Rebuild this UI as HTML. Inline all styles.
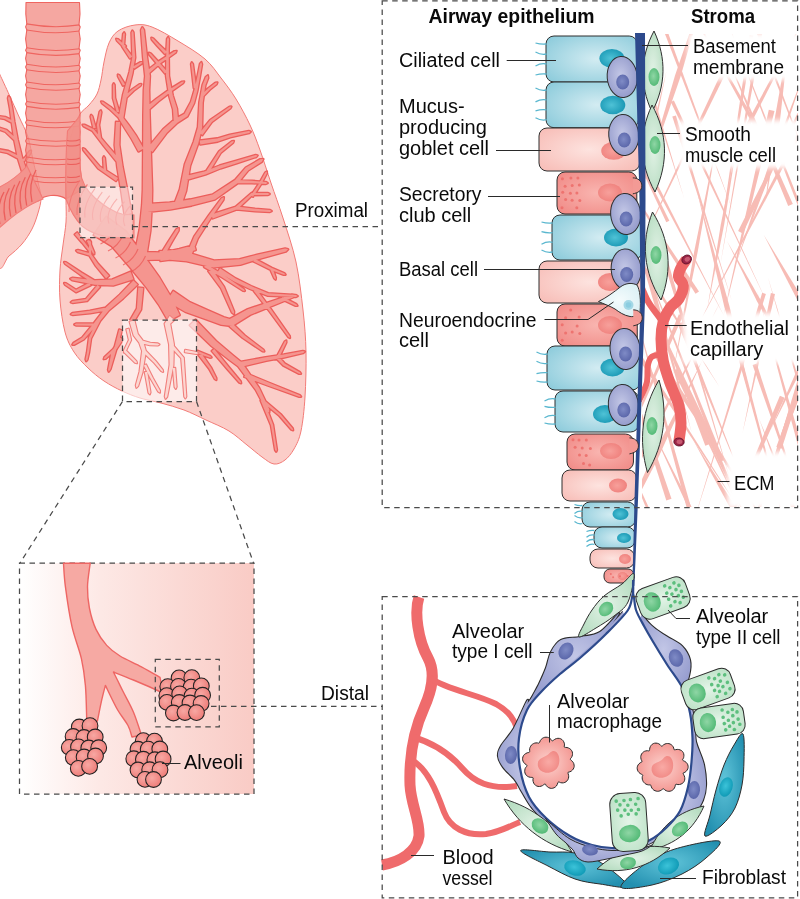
<!DOCTYPE html>
<html><head><meta charset="utf-8"><style>
html,body{margin:0;padding:0;background:#fff;font-family:"Liberation Sans", sans-serif;}
svg{display:block;}
</style></head><body>
<div style="width:800px;height:899px;will-change:transform"><svg width="800" height="899" viewBox="0 0 800 899" style='font-family:"Liberation Sans", sans-serif'>
<defs>
<radialGradient id="gCil" cx="0.55" cy="0.5" r="0.7"><stop offset="0" stop-color="#d3ecf2"/><stop offset="1" stop-color="#8ccbdb"/></radialGradient>
<radialGradient id="gGob" cx="0.5" cy="0.5" r="0.7"><stop offset="0" stop-color="#fde3df"/><stop offset="1" stop-color="#f7bbb5"/></radialGradient>
<radialGradient id="gClub" cx="0.5" cy="0.5" r="0.7"><stop offset="0" stop-color="#f9b5b0"/><stop offset="1" stop-color="#f08884"/></radialGradient>
<radialGradient id="gBas" cx="0.45" cy="0.45" r="0.65"><stop offset="0" stop-color="#c3c7e6"/><stop offset="1" stop-color="#8e95c8"/></radialGradient>
<radialGradient id="gBasN" cx="0.45" cy="0.45" r="0.6"><stop offset="0" stop-color="#7f8bc6"/><stop offset="1" stop-color="#5864a8"/></radialGradient>
<radialGradient id="gTealN" cx="0.45" cy="0.5" r="0.6"><stop offset="0" stop-color="#4fc2d6"/><stop offset="1" stop-color="#1595b2"/></radialGradient>
<radialGradient id="gPinkN" cx="0.45" cy="0.5" r="0.6"><stop offset="0" stop-color="#f7a09b"/><stop offset="1" stop-color="#ef7f7b"/></radialGradient>
<radialGradient id="gSmc" cx="0.5" cy="0.5" r="0.6"><stop offset="0" stop-color="#e2f2e6"/><stop offset="1" stop-color="#b5dcc0"/></radialGradient>
<radialGradient id="gGrN" cx="0.45" cy="0.45" r="0.6"><stop offset="0" stop-color="#8fd6a5"/><stop offset="1" stop-color="#4fb873"/></radialGradient>
<radialGradient id="gAT1" cx="0.5" cy="0.5" r="0.6"><stop offset="0" stop-color="#c2c6e6"/><stop offset="1" stop-color="#959cce"/></radialGradient>
<radialGradient id="gAT2" cx="0.5" cy="0.5" r="0.7"><stop offset="0" stop-color="#e4f4e8"/><stop offset="1" stop-color="#b8e0c3"/></radialGradient>
<radialGradient id="gFib" cx="0.5" cy="0.45" r="0.6"><stop offset="0" stop-color="#5fc3d8"/><stop offset="1" stop-color="#2390b0"/></radialGradient>
<radialGradient id="gFibN" cx="0.45" cy="0.45" r="0.6"><stop offset="0" stop-color="#3cc3d9"/><stop offset="1" stop-color="#0d98b4"/></radialGradient>
<radialGradient id="gMac" cx="0.5" cy="0.5" r="0.6"><stop offset="0" stop-color="#fcd3cf"/><stop offset="1" stop-color="#f28e89"/></radialGradient>
<radialGradient id="gMacN" cx="0.5" cy="0.5" r="0.6"><stop offset="0" stop-color="#f9aaa5"/><stop offset="1" stop-color="#f08682"/></radialGradient>
<radialGradient id="gNeu" cx="0.5" cy="0.5" r="0.7"><stop offset="0" stop-color="#f4fbfc"/><stop offset="1" stop-color="#d6eef3"/></radialGradient>
<radialGradient id="gAlv" cx="0.4" cy="0.4" r="0.65"><stop offset="0" stop-color="#f7a8a3"/><stop offset="1" stop-color="#ee7a76"/></radialGradient>
<linearGradient id="gInset" x1="0" y1="0" x2="1" y2="0"><stop offset="0" stop-color="#ffffff"/><stop offset="0.35" stop-color="#fde8e5"/><stop offset="1" stop-color="#f9cbc5"/></linearGradient>
</defs>
<path d="M-2.0,73.0 C-0.7,57.2 -1.9,71.3 0.0,75.0 C1.9,78.7 6.2,88.2 9.3,95.0 C12.4,101.8 15.6,109.0 18.7,116.0 C21.8,123.0 25.6,129.7 28.0,137.0 C30.4,144.3 31.3,152.5 33.0,160.0 C34.7,167.5 36.7,175.7 38.0,182.0 C39.3,188.3 41.0,192.8 41.0,198.0 C41.0,203.2 39.5,207.8 38.0,213.0 C36.5,218.2 34.7,223.8 32.0,229.0 C29.3,234.2 25.8,239.5 22.0,244.0 C18.2,248.5 13.0,252.8 9.0,256.0 C5.0,259.2 0.8,277.3 -2.0,263.0 C-4.8,248.7 -8.0,201.7 -8.0,170.0 C-8.0,138.3 -3.3,88.8 -2.0,73.0Z" fill="#fbcdc8" stroke="#f27b77" stroke-width="1"/>
<path d="M80.0,114.0 C82.7,109.8 86.2,108.3 89.0,105.0 C91.8,101.7 95.0,98.2 97.0,94.0 C99.0,89.8 99.8,85.3 101.0,80.0 C102.2,74.7 102.7,68.2 104.0,62.0 C105.3,55.8 106.7,48.2 109.0,43.0 C111.3,37.8 113.7,34.0 118.0,31.0 C122.3,28.0 129.3,25.7 135.0,25.0 C140.7,24.3 144.8,24.3 152.0,27.0 C159.2,29.7 169.2,35.7 178.0,41.0 C186.8,46.3 197.8,52.8 205.0,59.0 C212.2,65.2 215.8,71.3 221.0,78.0 C226.2,84.7 231.2,91.2 236.0,99.0 C240.8,106.8 246.0,116.5 250.0,125.0 C254.0,133.5 256.5,140.3 260.0,150.0 C263.5,159.7 267.2,171.7 271.0,183.0 C274.8,194.3 278.8,204.8 283.0,218.0 C287.2,231.2 292.7,246.7 296.0,262.0 C299.3,277.3 301.3,295.0 303.0,310.0 C304.7,325.0 305.7,337.5 306.0,352.0 C306.3,366.5 305.8,383.8 305.0,397.0 C304.2,410.2 302.8,422.3 301.0,431.0 C299.2,439.7 296.7,444.2 294.0,449.0 C291.3,453.8 288.3,457.5 285.0,460.0 C281.7,462.5 277.8,464.5 274.0,464.0 C270.2,463.5 266.5,460.2 262.0,457.0 C257.5,453.8 252.5,449.3 247.0,445.0 C241.5,440.7 235.8,435.2 229.0,431.0 C222.2,426.8 213.5,423.5 206.0,420.0 C198.5,416.5 191.5,412.8 184.0,410.0 C176.5,407.2 168.3,405.0 161.0,403.0 C153.7,401.0 146.5,400.0 140.0,398.0 C133.5,396.0 128.0,393.8 122.0,391.0 C116.0,388.2 109.7,384.8 104.0,381.0 C98.3,377.2 93.0,372.8 88.0,368.0 C83.0,363.2 77.8,358.0 74.0,352.0 C70.2,346.0 67.3,340.7 65.0,332.0 C62.7,323.3 60.8,310.3 60.0,300.0 C59.2,289.7 59.5,279.2 60.0,270.0 C60.5,260.8 62.0,253.0 63.0,245.0 C64.0,237.0 65.5,229.5 66.0,222.0 C66.5,214.5 66.0,207.8 66.0,200.0 C66.0,192.2 65.7,183.3 66.0,175.0 C66.3,166.7 66.8,157.5 68.0,150.0 C69.2,142.5 71.0,136.0 73.0,130.0 C75.0,124.0 77.3,118.2 80.0,114.0Z" fill="#fbcdc8" stroke="#f27b77" stroke-width="1"/>
<g><path d="M145.9,259.1 L150.4,230.7 L151.9,205.3 L152.2,190.0 L150.9,151.9 L149.7,115.0 L149.2,90.1 L149.9,75.9 L147.0,56.8 L144.0,29.9 L142.3,27.3 L141.0,30.1 L143.0,57.2 L145.1,76.1 L143.8,89.9 L143.3,115.0 L143.1,152.1 L142.8,190.0 L142.1,204.7 L139.6,229.3 L134.1,256.9Z M149.1,73.3 L160.8,63.1 L175.6,52.8 L176.5,51.0 L174.4,51.2 L159.2,60.9 L146.9,70.7Z M149.3,109.5 L158.6,101.3 L171.8,91.1 L183.0,83.3 L184.0,81.5 L182.0,81.7 L170.2,88.9 L156.4,98.7 L146.7,106.5Z M152.4,151.9 L166.9,132.7 L177.4,122.8 L187.5,116.3 L194.1,103.2 L197.5,90.3 L200.2,75.2 L202.0,64.2 L201.3,62.2 L200.0,63.8 L197.8,74.8 L194.5,89.7 L190.9,101.8 L184.5,113.7 L174.6,119.2 L163.1,129.3 L147.6,148.1Z M178.2,121.8 L177.0,108.6 L172.8,95.6 L169.0,75.9 L168.7,51.0 L169.0,39.0 L168.1,37.2 L167.0,39.0 L166.3,51.0 L166.0,76.1 L169.2,96.4 L173.0,109.4 L173.8,122.2Z M167.1,51.9 L158.8,44.2 L153.2,38.4 L151.4,37.8 L151.8,39.6 L157.2,45.8 L164.9,54.1Z M167.1,71.5 L157.9,61.2 L150.7,53.4 L148.9,52.8 L149.3,54.6 L156.1,62.8 L164.9,73.5Z M196.2,87.8 L192.9,63.9 L191.8,62.4 L191.1,64.1 L193.8,88.2Z M143.6,148.5 L136.4,136.1 L129.1,125.6 L123.4,117.9 L127.0,95.4 L132.6,72.9 L135.2,57.6 L133.5,32.5 L132.4,30.7 L131.5,32.5 L132.3,57.4 L129.4,72.1 L123.0,94.6 L118.6,118.1 L124.9,128.4 L131.6,138.9 L138.4,151.5Z M122.0,116.9 L110.7,107.1 L103.0,101.8 L101.2,101.5 L102.0,103.2 L109.3,108.9 L120.0,119.1Z M132.2,56.6 L124.1,45.7 L124.9,34.1 L124.1,32.4 L123.1,33.9 L121.9,46.3 L129.8,58.4Z M125.9,46.1 L118.1,39.3 L116.3,38.9 L116.9,40.7 L124.1,47.9Z M134.4,68.6 L141.5,63.8 L142.4,62.1 L140.5,62.2 L133.1,66.4Z M125.1,84.4 L119.5,75.5 L117.9,74.6 L118.0,76.5 L122.9,85.6Z M125.9,98.4 L133.7,90.8 L140.5,85.7 L141.3,84.1 L139.5,84.3 L132.3,89.2 L124.1,96.6Z M119.2,111.7 L115.1,97.8 L114.6,85.0 L113.7,83.4 L112.9,85.0 L112.9,98.2 L116.8,112.3Z M131.5,213.5 L127.6,191.5 L122.7,167.1 L119.4,144.9 L120.0,122.1 L116.0,121.9 L114.6,145.1 L117.3,167.9 L121.4,192.5 L124.5,214.5Z M121.5,161.7 L106.2,144.0 L93.8,129.2 L84.4,124.7 L82.6,124.8 L83.6,126.3 L92.2,130.8 L103.8,146.0 L118.5,164.3Z M95.7,127.7 L92.4,116.3 L91.1,114.9 L90.6,116.7 L93.3,128.3Z M101.2,138.8 L99.1,125.0 L101.4,112.2 L100.8,110.4 L99.6,111.8 L96.9,125.0 L98.8,139.2Z M118.0,178.0 L99.9,166.5 L84.7,148.9 L83.0,148.3 L83.3,150.1 L98.1,168.5 L116.0,181.0Z M106.2,170.9 L104.9,157.9 L103.9,156.4 L103.1,158.1 L103.8,171.1Z M147.3,212.0 L170.4,209.5 L191.6,205.6 L214.9,199.4 L237.9,183.1 L248.2,170.4 L261.8,161.8 L263.3,159.1 L260.2,159.2 L245.8,167.6 L235.1,179.9 L212.6,194.6 L190.4,199.4 L169.6,202.5 L146.7,204.0Z M236.5,183.0 L251.9,183.2 L265.9,183.9 L267.6,183.1 L266.1,182.1 L252.1,180.8 L236.5,180.0Z M181.3,205.2 L186.2,190.8 L190.2,165.7 L198.3,143.3 L202.1,127.8 L202.7,102.7 L205.4,85.3 L208.2,78.0 L207.8,75.4 L205.8,77.0 L202.6,84.7 L199.3,102.3 L197.9,127.2 L193.7,141.7 L184.8,164.3 L179.8,189.2 L174.7,202.8Z M200.3,144.5 L217.8,141.6 L230.3,137.3 L249.2,132.9 L250.6,131.7 L248.8,131.1 L229.7,134.7 L217.2,138.4 L199.7,140.5Z M202.4,135.1 L211.9,122.0 L230.5,108.2 L231.3,106.6 L229.5,106.8 L210.1,120.0 L199.6,132.9Z M202.9,96.9 L209.7,89.8 L216.6,84.2 L217.3,82.5 L215.4,82.8 L208.3,88.2 L201.1,95.1Z M186.5,179.9 L205.5,174.6 L220.5,168.4 L236.9,163.2 L256.3,156.9 L257.5,155.5 L255.7,155.1 L236.1,160.8 L219.5,165.6 L204.5,171.4 L185.5,176.1Z M209.3,171.8 L220.9,152.7 L233.1,142.7 L233.8,141.0 L231.9,141.3 L219.1,151.3 L206.7,170.2Z M212.7,218.4 L237.3,209.3 L252.5,195.1 L268.0,194.9 L269.6,194.0 L268.0,193.1 L251.5,192.9 L235.7,206.7 L211.3,214.6Z M253.0,196.7 L260.9,184.6 L266.8,173.4 L266.8,171.6 L265.2,172.6 L259.1,183.4 L251.0,195.3Z M236.3,209.5 L254.9,211.2 L269.9,211.9 L271.6,211.1 L270.1,210.1 L255.1,208.8 L236.7,206.5Z M160.5,261.0 L169.8,259.7 L186.6,261.2 L213.4,267.5 L240.4,264.7 L258.1,259.2 L285.9,251.5 L288.1,249.3 L285.1,248.5 L256.9,254.8 L239.6,259.3 L214.1,260.5 L188.4,252.8 L170.2,250.3 L159.5,251.0Z M253.3,261.3 L271.0,270.0 L283.7,274.8 L285.5,274.6 L284.3,273.2 L272.0,268.0 L254.7,258.7Z M270.3,269.5 L274.2,278.3 L275.6,279.5 L275.8,277.7 L272.7,268.5Z M204.1,267.0 L221.8,277.2 L243.0,290.7 L244.8,290.9 L244.0,289.3 L223.2,274.8 L205.9,264.0Z M189.8,259.4 L197.8,238.5 L211.3,217.4 L223.5,199.7 L223.8,197.2 L221.5,198.3 L208.7,215.6 L194.2,236.5 L185.2,257.6Z M146.0,260.0 L163.9,259.5 L180.8,254.9 L195.7,249.9 L194.3,245.1 L179.2,249.1 L163.1,252.5 L146.0,252.0Z M164.7,255.0 L171.4,242.8 L178.6,230.7 L178.7,228.1 L176.4,229.3 L168.6,241.2 L161.3,253.0Z M166.8,301.1 L185.1,311.7 L203.3,318.3 L221.2,324.8 L232.2,326.1 L250.3,314.8 L268.8,307.2 L293.0,297.4 L295.0,295.1 L292.0,294.6 L267.2,302.8 L247.7,309.2 L229.8,318.9 L223.8,317.2 L206.7,309.7 L189.9,302.3 L173.2,290.9Z M281.4,299.1 L295.6,305.8 L297.4,305.7 L296.4,304.2 L282.6,296.9Z M229.6,326.5 L242.5,337.7 L262.5,351.2 L264.3,351.4 L263.5,349.8 L244.5,335.3 L232.4,323.5Z M208.4,271.2 L221.0,288.3 L231.9,312.5 L233.9,314.1 L234.1,311.5 L224.0,286.7 L211.6,268.8Z M217.9,271.7 L234.2,281.5 L249.9,288.9 L267.8,295.8 L296.0,296.9 L297.6,296.1 L296.0,295.1 L268.2,293.2 L251.1,286.1 L235.8,278.5 L220.1,268.3Z M253.8,290.9 L269.0,310.7 L288.3,337.0 L289.9,337.8 L289.7,336.0 L271.0,309.3 L256.2,289.1Z M189.9,325.3 L211.5,346.0 L229.2,359.8 L238.0,366.2 L255.8,390.0 L266.7,410.7 L269.2,412.4 L269.3,409.3 L259.2,388.0 L242.0,362.8 L232.8,355.2 L216.0,341.0 L195.6,319.7Z M240.5,366.9 L266.4,360.8 L284.3,357.4 L303.2,353.0 L304.8,351.6 L302.8,351.0 L283.7,354.6 L265.6,357.2 L239.5,362.1Z M279.1,357.6 L286.3,342.4 L286.2,340.6 L284.7,341.6 L276.9,356.4Z M276.9,359.0 L283.3,365.6 L299.1,373.8 L300.9,373.8 L299.9,372.2 L284.7,363.4 L279.1,357.0Z M244.3,376.9 L267.4,385.4 L299.2,396.8 L301.0,396.6 L299.8,395.2 L268.6,382.6 L245.7,373.1Z M198.5,354.9 L209.0,368.6 L214.7,378.9 L216.3,379.9 L216.3,378.1 L211.0,367.4 L201.0,353.1Z M211.8,351.0 L227.1,368.8 L239.3,382.6 L241.1,383.2 L240.7,381.4 L228.9,367.2 L214.2,349.0Z M260.6,400.6 L270.9,425.3 L275.1,450.1 L276.3,451.6 L276.9,449.9 L273.1,424.7 L263.4,399.4Z M261.2,401.0 L279.3,415.8 L291.3,429.6 L293.1,430.2 L292.7,428.4 L280.7,414.2 L262.8,399.0Z M196.6,353.2 L209.7,357.6 L211.5,357.4 L210.3,356.0 L197.4,350.8Z M130.6,271.7 L112.2,279.5 L95.2,280.2 L72.7,277.8 L70.3,278.7 L72.3,280.2 L94.8,284.8 L113.3,285.5 L133.4,279.3Z M109.0,275.7 L98.2,264.0 L90.7,253.5 L78.0,250.1 L76.2,250.6 L77.5,251.9 L89.3,255.5 L95.8,266.0 L106.0,278.3Z M91.2,254.5 L90.9,242.0 L90.0,240.4 L89.1,242.0 L88.8,254.5Z M95.8,281.2 L81.7,272.7 L66.0,262.3 L64.2,262.1 L65.0,263.7 L80.3,274.8 L94.2,283.8Z M89.3,282.7 L76.0,289.8 L66.0,283.3 L64.2,283.1 L65.0,284.7 L76.0,292.2 L90.7,285.3Z M97.6,285.0 L85.9,299.0 L72.4,301.1 L70.9,302.2 L72.6,302.9 L87.1,301.0 L99.9,287.0Z M74.8,234.5 L82.1,242.8 L89.3,251.6 L91.0,252.3 L90.7,250.4 L83.9,241.2 L77.2,232.5Z M86.9,241.0 L92.7,253.1 L94.2,254.2 L94.3,252.4 L89.1,240.0Z M133.4,280.4 L119.8,294.6 L106.0,307.3 L93.7,323.4 L82.2,337.6 L73.5,342.9 L72.4,344.7 L74.5,344.6 L83.8,339.4 L96.3,325.6 L109.0,310.2 L123.2,298.4 L137.6,284.6Z M107.2,307.3 L89.8,310.8 L72.4,313.1 L70.9,314.2 L72.6,314.9 L90.2,313.2 L107.8,310.2Z M95.0,323.2 L76.0,323.6 L74.4,324.5 L76.0,325.4 L95.0,325.8Z M97.7,319.3 L88.9,337.6 L87.0,352.3 L85.6,359.3 L86.2,361.1 L87.4,359.7 L89.0,352.7 L91.1,338.4 L100.3,320.7Z M138.3,287.5 L136.9,308.4 L130.3,320.0 L133.7,322.0 L141.1,309.6 L143.2,288.0Z M120.0,337.6 L111.5,352.0 L108.1,369.8 L108.7,371.6 L109.9,370.2 L114.0,353.0 L123.0,339.4Z M119.2,329.6 L113.9,349.7 L108.7,368.8 L109.2,370.6 L110.5,369.2 L116.1,350.3 L122.0,330.4Z M115.2,347.1 L104.4,357.3 L103.8,359.1 L105.6,358.7 L116.8,348.9Z M93.8,235.1 L111.7,246.1 L129.9,267.1 L146.4,287.2 L158.8,304.7 L168.3,321.0 L179.7,315.0 L171.2,297.3 L159.6,277.8 L144.1,255.9 L125.8,231.4 L106.2,216.9Z" fill="#ec5e5b" stroke="#ec5e5b" stroke-width="2.6" stroke-linejoin="round"/>
<path d="M145.9,259.1 L150.4,230.7 L151.9,205.3 L152.2,190.0 L150.9,151.9 L149.7,115.0 L149.2,90.1 L149.9,75.9 L147.0,56.8 L144.0,29.9 L142.3,27.3 L141.0,30.1 L143.0,57.2 L145.1,76.1 L143.8,89.9 L143.3,115.0 L143.1,152.1 L142.8,190.0 L142.1,204.7 L139.6,229.3 L134.1,256.9Z M149.1,73.3 L160.8,63.1 L175.6,52.8 L176.5,51.0 L174.4,51.2 L159.2,60.9 L146.9,70.7Z M149.3,109.5 L158.6,101.3 L171.8,91.1 L183.0,83.3 L184.0,81.5 L182.0,81.7 L170.2,88.9 L156.4,98.7 L146.7,106.5Z M152.4,151.9 L166.9,132.7 L177.4,122.8 L187.5,116.3 L194.1,103.2 L197.5,90.3 L200.2,75.2 L202.0,64.2 L201.3,62.2 L200.0,63.8 L197.8,74.8 L194.5,89.7 L190.9,101.8 L184.5,113.7 L174.6,119.2 L163.1,129.3 L147.6,148.1Z M178.2,121.8 L177.0,108.6 L172.8,95.6 L169.0,75.9 L168.7,51.0 L169.0,39.0 L168.1,37.2 L167.0,39.0 L166.3,51.0 L166.0,76.1 L169.2,96.4 L173.0,109.4 L173.8,122.2Z M167.1,51.9 L158.8,44.2 L153.2,38.4 L151.4,37.8 L151.8,39.6 L157.2,45.8 L164.9,54.1Z M167.1,71.5 L157.9,61.2 L150.7,53.4 L148.9,52.8 L149.3,54.6 L156.1,62.8 L164.9,73.5Z M196.2,87.8 L192.9,63.9 L191.8,62.4 L191.1,64.1 L193.8,88.2Z M143.6,148.5 L136.4,136.1 L129.1,125.6 L123.4,117.9 L127.0,95.4 L132.6,72.9 L135.2,57.6 L133.5,32.5 L132.4,30.7 L131.5,32.5 L132.3,57.4 L129.4,72.1 L123.0,94.6 L118.6,118.1 L124.9,128.4 L131.6,138.9 L138.4,151.5Z M122.0,116.9 L110.7,107.1 L103.0,101.8 L101.2,101.5 L102.0,103.2 L109.3,108.9 L120.0,119.1Z M132.2,56.6 L124.1,45.7 L124.9,34.1 L124.1,32.4 L123.1,33.9 L121.9,46.3 L129.8,58.4Z M125.9,46.1 L118.1,39.3 L116.3,38.9 L116.9,40.7 L124.1,47.9Z M134.4,68.6 L141.5,63.8 L142.4,62.1 L140.5,62.2 L133.1,66.4Z M125.1,84.4 L119.5,75.5 L117.9,74.6 L118.0,76.5 L122.9,85.6Z M125.9,98.4 L133.7,90.8 L140.5,85.7 L141.3,84.1 L139.5,84.3 L132.3,89.2 L124.1,96.6Z M119.2,111.7 L115.1,97.8 L114.6,85.0 L113.7,83.4 L112.9,85.0 L112.9,98.2 L116.8,112.3Z M131.5,213.5 L127.6,191.5 L122.7,167.1 L119.4,144.9 L120.0,122.1 L116.0,121.9 L114.6,145.1 L117.3,167.9 L121.4,192.5 L124.5,214.5Z M121.5,161.7 L106.2,144.0 L93.8,129.2 L84.4,124.7 L82.6,124.8 L83.6,126.3 L92.2,130.8 L103.8,146.0 L118.5,164.3Z M95.7,127.7 L92.4,116.3 L91.1,114.9 L90.6,116.7 L93.3,128.3Z M101.2,138.8 L99.1,125.0 L101.4,112.2 L100.8,110.4 L99.6,111.8 L96.9,125.0 L98.8,139.2Z M118.0,178.0 L99.9,166.5 L84.7,148.9 L83.0,148.3 L83.3,150.1 L98.1,168.5 L116.0,181.0Z M106.2,170.9 L104.9,157.9 L103.9,156.4 L103.1,158.1 L103.8,171.1Z M147.3,212.0 L170.4,209.5 L191.6,205.6 L214.9,199.4 L237.9,183.1 L248.2,170.4 L261.8,161.8 L263.3,159.1 L260.2,159.2 L245.8,167.6 L235.1,179.9 L212.6,194.6 L190.4,199.4 L169.6,202.5 L146.7,204.0Z M236.5,183.0 L251.9,183.2 L265.9,183.9 L267.6,183.1 L266.1,182.1 L252.1,180.8 L236.5,180.0Z M181.3,205.2 L186.2,190.8 L190.2,165.7 L198.3,143.3 L202.1,127.8 L202.7,102.7 L205.4,85.3 L208.2,78.0 L207.8,75.4 L205.8,77.0 L202.6,84.7 L199.3,102.3 L197.9,127.2 L193.7,141.7 L184.8,164.3 L179.8,189.2 L174.7,202.8Z M200.3,144.5 L217.8,141.6 L230.3,137.3 L249.2,132.9 L250.6,131.7 L248.8,131.1 L229.7,134.7 L217.2,138.4 L199.7,140.5Z M202.4,135.1 L211.9,122.0 L230.5,108.2 L231.3,106.6 L229.5,106.8 L210.1,120.0 L199.6,132.9Z M202.9,96.9 L209.7,89.8 L216.6,84.2 L217.3,82.5 L215.4,82.8 L208.3,88.2 L201.1,95.1Z M186.5,179.9 L205.5,174.6 L220.5,168.4 L236.9,163.2 L256.3,156.9 L257.5,155.5 L255.7,155.1 L236.1,160.8 L219.5,165.6 L204.5,171.4 L185.5,176.1Z M209.3,171.8 L220.9,152.7 L233.1,142.7 L233.8,141.0 L231.9,141.3 L219.1,151.3 L206.7,170.2Z M212.7,218.4 L237.3,209.3 L252.5,195.1 L268.0,194.9 L269.6,194.0 L268.0,193.1 L251.5,192.9 L235.7,206.7 L211.3,214.6Z M253.0,196.7 L260.9,184.6 L266.8,173.4 L266.8,171.6 L265.2,172.6 L259.1,183.4 L251.0,195.3Z M236.3,209.5 L254.9,211.2 L269.9,211.9 L271.6,211.1 L270.1,210.1 L255.1,208.8 L236.7,206.5Z M160.5,261.0 L169.8,259.7 L186.6,261.2 L213.4,267.5 L240.4,264.7 L258.1,259.2 L285.9,251.5 L288.1,249.3 L285.1,248.5 L256.9,254.8 L239.6,259.3 L214.1,260.5 L188.4,252.8 L170.2,250.3 L159.5,251.0Z M253.3,261.3 L271.0,270.0 L283.7,274.8 L285.5,274.6 L284.3,273.2 L272.0,268.0 L254.7,258.7Z M270.3,269.5 L274.2,278.3 L275.6,279.5 L275.8,277.7 L272.7,268.5Z M204.1,267.0 L221.8,277.2 L243.0,290.7 L244.8,290.9 L244.0,289.3 L223.2,274.8 L205.9,264.0Z M189.8,259.4 L197.8,238.5 L211.3,217.4 L223.5,199.7 L223.8,197.2 L221.5,198.3 L208.7,215.6 L194.2,236.5 L185.2,257.6Z M146.0,260.0 L163.9,259.5 L180.8,254.9 L195.7,249.9 L194.3,245.1 L179.2,249.1 L163.1,252.5 L146.0,252.0Z M164.7,255.0 L171.4,242.8 L178.6,230.7 L178.7,228.1 L176.4,229.3 L168.6,241.2 L161.3,253.0Z M166.8,301.1 L185.1,311.7 L203.3,318.3 L221.2,324.8 L232.2,326.1 L250.3,314.8 L268.8,307.2 L293.0,297.4 L295.0,295.1 L292.0,294.6 L267.2,302.8 L247.7,309.2 L229.8,318.9 L223.8,317.2 L206.7,309.7 L189.9,302.3 L173.2,290.9Z M281.4,299.1 L295.6,305.8 L297.4,305.7 L296.4,304.2 L282.6,296.9Z M229.6,326.5 L242.5,337.7 L262.5,351.2 L264.3,351.4 L263.5,349.8 L244.5,335.3 L232.4,323.5Z M208.4,271.2 L221.0,288.3 L231.9,312.5 L233.9,314.1 L234.1,311.5 L224.0,286.7 L211.6,268.8Z M217.9,271.7 L234.2,281.5 L249.9,288.9 L267.8,295.8 L296.0,296.9 L297.6,296.1 L296.0,295.1 L268.2,293.2 L251.1,286.1 L235.8,278.5 L220.1,268.3Z M253.8,290.9 L269.0,310.7 L288.3,337.0 L289.9,337.8 L289.7,336.0 L271.0,309.3 L256.2,289.1Z M189.9,325.3 L211.5,346.0 L229.2,359.8 L238.0,366.2 L255.8,390.0 L266.7,410.7 L269.2,412.4 L269.3,409.3 L259.2,388.0 L242.0,362.8 L232.8,355.2 L216.0,341.0 L195.6,319.7Z M240.5,366.9 L266.4,360.8 L284.3,357.4 L303.2,353.0 L304.8,351.6 L302.8,351.0 L283.7,354.6 L265.6,357.2 L239.5,362.1Z M279.1,357.6 L286.3,342.4 L286.2,340.6 L284.7,341.6 L276.9,356.4Z M276.9,359.0 L283.3,365.6 L299.1,373.8 L300.9,373.8 L299.9,372.2 L284.7,363.4 L279.1,357.0Z M244.3,376.9 L267.4,385.4 L299.2,396.8 L301.0,396.6 L299.8,395.2 L268.6,382.6 L245.7,373.1Z M198.5,354.9 L209.0,368.6 L214.7,378.9 L216.3,379.9 L216.3,378.1 L211.0,367.4 L201.0,353.1Z M211.8,351.0 L227.1,368.8 L239.3,382.6 L241.1,383.2 L240.7,381.4 L228.9,367.2 L214.2,349.0Z M260.6,400.6 L270.9,425.3 L275.1,450.1 L276.3,451.6 L276.9,449.9 L273.1,424.7 L263.4,399.4Z M261.2,401.0 L279.3,415.8 L291.3,429.6 L293.1,430.2 L292.7,428.4 L280.7,414.2 L262.8,399.0Z M196.6,353.2 L209.7,357.6 L211.5,357.4 L210.3,356.0 L197.4,350.8Z M130.6,271.7 L112.2,279.5 L95.2,280.2 L72.7,277.8 L70.3,278.7 L72.3,280.2 L94.8,284.8 L113.3,285.5 L133.4,279.3Z M109.0,275.7 L98.2,264.0 L90.7,253.5 L78.0,250.1 L76.2,250.6 L77.5,251.9 L89.3,255.5 L95.8,266.0 L106.0,278.3Z M91.2,254.5 L90.9,242.0 L90.0,240.4 L89.1,242.0 L88.8,254.5Z M95.8,281.2 L81.7,272.7 L66.0,262.3 L64.2,262.1 L65.0,263.7 L80.3,274.8 L94.2,283.8Z M89.3,282.7 L76.0,289.8 L66.0,283.3 L64.2,283.1 L65.0,284.7 L76.0,292.2 L90.7,285.3Z M97.6,285.0 L85.9,299.0 L72.4,301.1 L70.9,302.2 L72.6,302.9 L87.1,301.0 L99.9,287.0Z M74.8,234.5 L82.1,242.8 L89.3,251.6 L91.0,252.3 L90.7,250.4 L83.9,241.2 L77.2,232.5Z M86.9,241.0 L92.7,253.1 L94.2,254.2 L94.3,252.4 L89.1,240.0Z M133.4,280.4 L119.8,294.6 L106.0,307.3 L93.7,323.4 L82.2,337.6 L73.5,342.9 L72.4,344.7 L74.5,344.6 L83.8,339.4 L96.3,325.6 L109.0,310.2 L123.2,298.4 L137.6,284.6Z M107.2,307.3 L89.8,310.8 L72.4,313.1 L70.9,314.2 L72.6,314.9 L90.2,313.2 L107.8,310.2Z M95.0,323.2 L76.0,323.6 L74.4,324.5 L76.0,325.4 L95.0,325.8Z M97.7,319.3 L88.9,337.6 L87.0,352.3 L85.6,359.3 L86.2,361.1 L87.4,359.7 L89.0,352.7 L91.1,338.4 L100.3,320.7Z M138.3,287.5 L136.9,308.4 L130.3,320.0 L133.7,322.0 L141.1,309.6 L143.2,288.0Z M120.0,337.6 L111.5,352.0 L108.1,369.8 L108.7,371.6 L109.9,370.2 L114.0,353.0 L123.0,339.4Z M119.2,329.6 L113.9,349.7 L108.7,368.8 L109.2,370.6 L110.5,369.2 L116.1,350.3 L122.0,330.4Z M115.2,347.1 L104.4,357.3 L103.8,359.1 L105.6,358.7 L116.8,348.9Z M93.8,235.1 L111.7,246.1 L129.9,267.1 L146.4,287.2 L158.8,304.7 L168.3,321.0 L179.7,315.0 L171.2,297.3 L159.6,277.8 L144.1,255.9 L125.8,231.4 L106.2,216.9Z" fill="#f5958f"/></g>
<path d="M100.5,244.0 Q111.0,239.0 115.5,228.0" fill="none" stroke="#ec5e5b" stroke-width="1.1" opacity="0.8"/>
<path d="M108.0,251.0 Q118.5,246.0 123.0,235.0" fill="none" stroke="#ec5e5b" stroke-width="1.1" opacity="0.8"/>
<path d="M115.5,258.0 Q126.0,253.0 130.5,242.0" fill="none" stroke="#ec5e5b" stroke-width="1.1" opacity="0.8"/>
<path d="M123.0,265.0 Q133.5,260.0 138.0,249.0" fill="none" stroke="#ec5e5b" stroke-width="1.1" opacity="0.8"/>
<path d="M130.5,272.0 Q141.0,267.0 145.5,256.0" fill="none" stroke="#ec5e5b" stroke-width="1.1" opacity="0.8"/>
<g><path d="M28.4,175.2 L22.1,157.4 L17.8,139.7 L14.4,121.8 L12.2,107.8 L10.0,97.8 L8.6,96.2 L8.0,98.2 L9.8,108.2 L11.6,122.2 L14.2,140.3 L17.9,158.6 L23.6,176.8Z M17.0,138.9 L6.6,130.1 L-1.7,127.2 L-3.5,127.4 L-2.3,128.8 L5.4,131.9 L15.0,141.1Z M20.7,156.7 L8.4,150.9 L-1.8,149.1 L-3.6,149.7 L-2.2,150.9 L7.6,153.1 L19.3,159.3Z M13.6,120.9 L5.3,117.0 L-1.9,116.1 L-3.6,116.8 L-2.1,117.9 L4.7,119.0 L12.4,123.1Z M20.8,164.0 L26.8,158.7 L30.7,152.5 L30.9,150.7 L29.3,151.5 L25.2,157.3 L19.2,162.0Z" fill="#ec5e5b" stroke="#ec5e5b" stroke-width="2.6" stroke-linejoin="round"/>
<path d="M28.4,175.2 L22.1,157.4 L17.8,139.7 L14.4,121.8 L12.2,107.8 L10.0,97.8 L8.6,96.2 L8.0,98.2 L9.8,108.2 L11.6,122.2 L14.2,140.3 L17.9,158.6 L23.6,176.8Z M17.0,138.9 L6.6,130.1 L-1.7,127.2 L-3.5,127.4 L-2.3,128.8 L5.4,131.9 L15.0,141.1Z M20.7,156.7 L8.4,150.9 L-1.8,149.1 L-3.6,149.7 L-2.2,150.9 L7.6,153.1 L19.3,159.3Z M13.6,120.9 L5.3,117.0 L-1.9,116.1 L-3.6,116.8 L-2.1,117.9 L4.7,119.0 L12.4,123.1Z M20.8,164.0 L26.8,158.7 L30.7,152.5 L30.9,150.7 L29.3,151.5 L25.2,157.3 L19.2,162.0Z" fill="#f5958f"/></g>
<path d="M26,2.5 L79.5,2.5 L80,14 L79.0,24.9 L80.2,26.9 L79.0,31.0 L80.2,38.9 L79.0,48.7 L80.2,50.2 L79.0,53.6 L80.2,58.4 L79.0,65.2 L80.2,67.0 L79.0,70.7 L80.2,75.8 L79.0,83.0 L80.2,84.8 L79.0,88.5 L80.2,94.5 L79.0,102.5 L80.2,104.0 L79.0,107.4 L80.2,113.2 L79.0,121.0 L80.2,122.5 L79.0,126.0 L80.2,131.8 L79.0,139.5 L80.2,141.0 L79.0,144.5 L80.2,150.2 L79.0,158.0 L80.2,159.5 L79.0,163.0 L80.5,170 C81,178 82,184 84,188 L66,199 C62,196 56,195 50.75,195.5 C46,196 41,198 38,201 L26,172 L26.8,162.0 L25.6,159.5 L26.8,157.0 L25.6,150.2 L26.8,143.5 L25.6,141.0 L26.8,138.5 L25.6,131.8 L26.8,125.0 L25.6,122.5 L26.8,120.0 L25.6,113.2 L26.8,106.4 L25.6,104.0 L26.8,101.5 L25.6,94.5 L26.8,87.5 L25.6,84.8 L26.8,82.0 L25.6,75.8 L26.8,69.7 L25.6,67.0 L26.8,64.2 L25.6,58.4 L26.8,52.6 L25.6,50.2 L26.8,47.7 L25.6,38.9 L26.8,30.0 L25.6,26.9 L26.8,23.9 L25.8,14 Z" fill="#f28e86" fill-opacity="0.78" stroke="#ef6560" stroke-width="1.1" stroke-linejoin="round"/>
<path d="M26.5,23.9 Q53,28.9 79.5,24.9" fill="none" stroke="#ef6560" stroke-width="1.1"/>
<path d="M26.5,30.0 Q53,35.0 79.5,31.0" fill="none" stroke="#ef6560" stroke-width="1.1"/>
<path d="M26.5,47.7 Q53,52.7 79.5,48.7" fill="none" stroke="#ef6560" stroke-width="1.1"/>
<path d="M26.5,52.6 Q53,57.6 79.5,53.6" fill="none" stroke="#ef6560" stroke-width="1.1"/>
<path d="M26.5,64.2 Q53,69.2 79.5,65.2" fill="none" stroke="#ef6560" stroke-width="1.1"/>
<path d="M26.5,69.7 Q53,74.7 79.5,70.7" fill="none" stroke="#ef6560" stroke-width="1.1"/>
<path d="M26.5,82.0 Q53,87.0 79.5,83.0" fill="none" stroke="#ef6560" stroke-width="1.1"/>
<path d="M26.5,87.5 Q53,92.5 79.5,88.5" fill="none" stroke="#ef6560" stroke-width="1.1"/>
<path d="M26.5,101.5 Q53,106.5 79.5,102.5" fill="none" stroke="#ef6560" stroke-width="1.1"/>
<path d="M26.5,106.4 Q53,111.4 79.5,107.4" fill="none" stroke="#ef6560" stroke-width="1.1"/>
<path d="M26.5,120.0 Q53,125.0 79.5,121.0" fill="none" stroke="#ef6560" stroke-width="1.1"/>
<path d="M26.5,125.0 Q53,130.0 79.5,126.0" fill="none" stroke="#ef6560" stroke-width="1.1"/>
<path d="M26.5,138.5 Q53,143.5 79.5,139.5" fill="none" stroke="#ef6560" stroke-width="1.1"/>
<path d="M26.5,143.5 Q53,148.5 79.5,144.5" fill="none" stroke="#ef6560" stroke-width="1.1"/>
<path d="M26.5,157.0 Q53,162.0 79.5,158.0" fill="none" stroke="#ef6560" stroke-width="1.1"/>
<path d="M26.5,162.0 Q53,167.0 79.5,163.0" fill="none" stroke="#ef6560" stroke-width="1.1"/>
<path d="M26.5,175.0 Q53,180.0 79.5,176.0" fill="none" stroke="#ef6560" stroke-width="1.1"/>
<path d="M26.5,180.0 Q53,185.0 79.5,181.0" fill="none" stroke="#ef6560" stroke-width="1.1"/>
<path d="M27,166 C20,174 10,182 -2,188 L-2,229 C8,220 20,210 32,204 C36,202 40,200 43,199 Z" fill="#f3938d" stroke="#f27b77" stroke-width="1.1"/>
<path d="M36.0,170.0 Q28.0,184.0 32.0,202.0" fill="none" stroke="#ec5f5c" stroke-width="1.3"/>
<path d="M30.7,173.7 Q22.7,187.7 26.7,205.7" fill="none" stroke="#ec5f5c" stroke-width="1.3"/>
<path d="M25.3,177.3 Q17.3,191.3 21.3,209.3" fill="none" stroke="#ec5f5c" stroke-width="1.3"/>
<path d="M20.0,181.0 Q12.0,195.0 16.0,213.0" fill="none" stroke="#ec5f5c" stroke-width="1.3"/>
<path d="M14.7,184.7 Q6.7,198.7 10.7,216.7" fill="none" stroke="#ec5f5c" stroke-width="1.3"/>
<path d="M9.3,188.3 Q1.3,202.3 5.3,220.3" fill="none" stroke="#ec5f5c" stroke-width="1.3"/>
<path d="M4.0,192.0 Q-4.0,206.0 0.0,224.0" fill="none" stroke="#ec5f5c" stroke-width="1.3"/>
<path d="M80,116 L80.3,170 C81,180 86,190 95,198 C103,205 112,212 122,214 L134,215 L134,238 C125,238 114,237 104,236 C95,234 88,231 82,226 C75,219 70,210 66,199 C65.5,180 66,150 67.5,131 Z" fill="#f2918a" fill-opacity="0.9" stroke="#f27b77" stroke-width="1.1"/>
<path d="M67,140.5 Q74,142.0 80,139.5" fill="none" stroke="#ec5f5c" stroke-width="1.1"/>
<path d="M67,145.5 Q74,147.0 80,144.5" fill="none" stroke="#ec5f5c" stroke-width="1.1"/>
<path d="M67,159.0 Q74,160.5 80,158.0" fill="none" stroke="#ec5f5c" stroke-width="1.1"/>
<path d="M67,164.0 Q74,165.5 80,163.0" fill="none" stroke="#ec5f5c" stroke-width="1.1"/>
<path d="M67,177.0 Q74,178.5 80,176.0" fill="none" stroke="#ec5f5c" stroke-width="1.1"/>
<path d="M67,182.0 Q74,183.5 80,181.0" fill="none" stroke="#ec5f5c" stroke-width="1.1"/>
<path d="M80.0,180.0 Q68.0,198.0 69.0,212.0" fill="none" stroke="#f27b77" stroke-width="1.1"/>
<path d="M87.4,184.4 Q75.4,201.6 77.0,215.0" fill="none" stroke="#f27b77" stroke-width="1.1"/>
<path d="M94.9,188.5 Q82.9,204.8 85.0,217.6" fill="none" stroke="#f27b77" stroke-width="1.1"/>
<path d="M102.3,192.2 Q90.3,207.7 93.0,220.0" fill="none" stroke="#f27b77" stroke-width="1.1"/>
<path d="M109.7,195.7 Q97.7,210.2 101.0,222.0" fill="none" stroke="#f27b77" stroke-width="1.1"/>
<path d="M117.1,198.8 Q105.1,212.5 109.0,223.6" fill="none" stroke="#f27b77" stroke-width="1.1"/>
<path d="M124.6,201.6 Q112.6,214.4 117.0,225.0" fill="none" stroke="#f27b77" stroke-width="1.1"/>
<path d="M132.0,204.0 Q120.0,216.0 125.0,226.0" fill="none" stroke="#f27b77" stroke-width="1.1"/>
<rect x="80" y="187" width="52.5" height="50.5" fill="#fff" fill-opacity="0.42"/>
<rect x="80" y="187" width="52.5" height="50.5" stroke="#4a4a4a" stroke-width="1.25" stroke-dasharray="5.5,4.5" fill="none"/>
<rect x="122.5" y="320" width="74" height="81.5" fill="#fff" fill-opacity="0.6"/>
<g><path d="M129.6,321.7 L133.7,335.6 L139.1,342.5 L142.1,351.0 L139.5,371.7 L135.8,385.2 L136.4,387.8 L138.2,386.0 L142.5,372.3 L145.9,351.0 L142.9,340.7 L137.8,333.9 L134.4,320.3Z M140.6,343.0 L149.8,345.2 L157.7,345.4 L159.5,344.5 L157.8,343.4 L150.2,342.8 L141.4,340.2Z M142.9,352.1 L154.1,362.8 L161.2,371.1 L163.1,371.9 L162.8,369.9 L155.9,361.2 L145.1,349.9Z M143.9,365.6 L151.0,379.3 L158.1,391.5 L159.9,392.6 L159.9,390.5 L153.0,378.2 L146.1,364.4Z M144.8,372.2 L148.5,392.7 L149.8,394.3 L150.5,392.3 L147.2,371.8Z M126.3,329.3 L128.9,339.9 L123.8,350.6 L124.0,352.6 L125.7,351.4 L131.1,340.1 L128.7,328.7Z M123.9,351.9 L135.0,362.7 L137.0,363.3 L136.5,361.3 L125.6,350.1Z M169.7,316.1 L164.6,323.7 L169.1,344.6 L169.6,364.8 L164.8,396.4 L165.6,398.8 L167.2,396.8 L173.4,365.2 L173.9,344.2 L170.2,323.8 L174.3,319.9Z M170.9,347.0 L181.2,358.3 L184.3,396.7 L185.4,398.4 L186.3,396.5 L183.8,357.7 L173.1,345.0Z M172.8,368.1 L174.6,387.1 L175.8,388.8 L176.6,386.9 L175.2,367.9Z M184.8,352.2 L196.3,354.0 L198.3,353.3 L196.7,352.0 L185.2,349.8Z" fill="#f17f7c" stroke="#f17f7c" stroke-width="2.2" stroke-linejoin="round"/>
<path d="M129.6,321.7 L133.7,335.6 L139.1,342.5 L142.1,351.0 L139.5,371.7 L135.8,385.2 L136.4,387.8 L138.2,386.0 L142.5,372.3 L145.9,351.0 L142.9,340.7 L137.8,333.9 L134.4,320.3Z M140.6,343.0 L149.8,345.2 L157.7,345.4 L159.5,344.5 L157.8,343.4 L150.2,342.8 L141.4,340.2Z M142.9,352.1 L154.1,362.8 L161.2,371.1 L163.1,371.9 L162.8,369.9 L155.9,361.2 L145.1,349.9Z M143.9,365.6 L151.0,379.3 L158.1,391.5 L159.9,392.6 L159.9,390.5 L153.0,378.2 L146.1,364.4Z M144.8,372.2 L148.5,392.7 L149.8,394.3 L150.5,392.3 L147.2,371.8Z M126.3,329.3 L128.9,339.9 L123.8,350.6 L124.0,352.6 L125.7,351.4 L131.1,340.1 L128.7,328.7Z M123.9,351.9 L135.0,362.7 L137.0,363.3 L136.5,361.3 L125.6,350.1Z M169.7,316.1 L164.6,323.7 L169.1,344.6 L169.6,364.8 L164.8,396.4 L165.6,398.8 L167.2,396.8 L173.4,365.2 L173.9,344.2 L170.2,323.8 L174.3,319.9Z M170.9,347.0 L181.2,358.3 L184.3,396.7 L185.4,398.4 L186.3,396.5 L183.8,357.7 L173.1,345.0Z M172.8,368.1 L174.6,387.1 L175.8,388.8 L176.6,386.9 L175.2,367.9Z M184.8,352.2 L196.3,354.0 L198.3,353.3 L196.7,352.0 L185.2,349.8Z" fill="#fcd6d1"/></g>
<rect x="122.5" y="320" width="74" height="81.5" stroke="#4a4a4a" stroke-width="1.25" stroke-dasharray="5.5,4.5" fill="none"/>
<line x1="132.5" y1="226.5" x2="382.5" y2="226.5" stroke="#4a4a4a" stroke-width="1.25" stroke-dasharray="5.5,4.5" fill="none"/>
<line x1="122.5" y1="401.5" x2="20" y2="563" stroke="#4a4a4a" stroke-width="1.25" stroke-dasharray="5.5,4.5" fill="none"/>
<line x1="196.5" y1="401.5" x2="253.5" y2="563" stroke="#4a4a4a" stroke-width="1.25" stroke-dasharray="5.5,4.5" fill="none"/>
<rect x="19.5" y="563" width="234.5" height="231" fill="url(#gInset)"/>
<rect x="19.5" y="563" width="234.5" height="231" stroke="#4a4a4a" stroke-width="1.25" stroke-dasharray="5.5,4.5" fill="none"/>
<path d="M63.5,563.2 C63.8,567.1 64.0,576.1 65.4,586.7 C66.8,597.3 69.3,614.7 72.0,626.7 C74.7,638.7 79.2,648.9 81.4,658.7 C83.6,668.5 84.5,675.4 85.4,685.4 C86.3,695.4 86.5,713.4 86.7,719.0 L97.4,721  L97.4,721.0 C98.1,717.7 100.1,707.3 101.4,701.4 C102.7,695.5 104.7,688.1 105.4,685.4  L105.4,685.4 C107.4,689.4 113.6,702.8 117.4,709.5 C121.2,716.2 125.6,720.9 128.0,725.5 C130.4,730.1 131.3,735.1 132.0,737.0 L141.4,735  L141.4,735.0 C140.1,731.2 136.5,719.4 133.4,712.0 C130.3,704.6 126.0,697.5 122.7,690.8 C119.4,684.1 115.0,675.1 113.4,672.0  L113.4,672.0 C116.7,673.3 127.0,677.3 133.4,680.0 C139.8,682.7 147.1,685.8 152.0,688.0 C156.9,690.2 161.2,692.2 163.0,693.0 L160,677.4  L160.0,677.4 C156.9,675.6 148.1,670.3 141.4,666.8 C134.7,663.2 125.8,659.6 120.0,656.0 C114.2,652.4 110.7,649.8 106.7,645.4 C102.7,641.0 98.9,635.6 96.0,629.4 C93.1,623.2 90.8,615.1 89.4,608.0 C88.0,600.9 87.4,594.2 87.5,586.7 C87.6,579.2 89.8,567.1 90.2,563.2 Z" fill="#f6a9a3" stroke="#ee6664" stroke-width="1.4" stroke-linejoin="round"/>
<circle cx="179.1" cy="677.9" r="7.9" fill="url(#gAlv)" stroke="#222" stroke-width="1.05"/>
<circle cx="191.8" cy="677.7" r="7.9" fill="url(#gAlv)" stroke="#222" stroke-width="1.05"/>
<circle cx="167.8" cy="686.6" r="7.9" fill="url(#gAlv)" stroke="#222" stroke-width="1.05"/>
<circle cx="178.5" cy="686.4" r="7.9" fill="url(#gAlv)" stroke="#222" stroke-width="1.05"/>
<circle cx="191.1" cy="687.1" r="7.9" fill="url(#gAlv)" stroke="#222" stroke-width="1.05"/>
<circle cx="166.8" cy="695.7" r="7.9" fill="url(#gAlv)" stroke="#222" stroke-width="1.05"/>
<circle cx="201.3" cy="685.9" r="7.9" fill="url(#gAlv)" stroke="#222" stroke-width="1.05"/>
<circle cx="179.7" cy="693.9" r="7.9" fill="url(#gAlv)" stroke="#222" stroke-width="1.05"/>
<circle cx="166.9" cy="702.4" r="7.9" fill="url(#gAlv)" stroke="#222" stroke-width="1.05"/>
<circle cx="191.9" cy="696.1" r="7.9" fill="url(#gAlv)" stroke="#222" stroke-width="1.05"/>
<circle cx="179.3" cy="702.5" r="7.9" fill="url(#gAlv)" stroke="#222" stroke-width="1.05"/>
<circle cx="202.6" cy="695.3" r="7.9" fill="url(#gAlv)" stroke="#222" stroke-width="1.05"/>
<circle cx="190.0" cy="703.0" r="7.9" fill="url(#gAlv)" stroke="#222" stroke-width="1.05"/>
<circle cx="173.4" cy="713.0" r="7.9" fill="url(#gAlv)" stroke="#222" stroke-width="1.05"/>
<circle cx="201.1" cy="703.5" r="7.9" fill="url(#gAlv)" stroke="#222" stroke-width="1.05"/>
<circle cx="185.0" cy="712.5" r="7.9" fill="url(#gAlv)" stroke="#222" stroke-width="1.05"/>
<circle cx="196.5" cy="712.6" r="7.9" fill="url(#gAlv)" stroke="#222" stroke-width="1.05"/>
<circle cx="79.3" cy="727.0" r="7.9" fill="url(#gAlv)" stroke="#222" stroke-width="1.05"/>
<circle cx="90.0" cy="725.7" r="7.9" fill="url(#gAlv)" stroke="#222" stroke-width="1.05"/>
<circle cx="73.1" cy="736.5" r="7.9" fill="url(#gAlv)" stroke="#222" stroke-width="1.05"/>
<circle cx="84.0" cy="737.5" r="7.9" fill="url(#gAlv)" stroke="#222" stroke-width="1.05"/>
<circle cx="95.2" cy="737.0" r="7.9" fill="url(#gAlv)" stroke="#222" stroke-width="1.05"/>
<circle cx="69.3" cy="747.4" r="7.9" fill="url(#gAlv)" stroke="#222" stroke-width="1.05"/>
<circle cx="78.5" cy="746.9" r="7.9" fill="url(#gAlv)" stroke="#222" stroke-width="1.05"/>
<circle cx="88.8" cy="748.0" r="7.9" fill="url(#gAlv)" stroke="#222" stroke-width="1.05"/>
<circle cx="98.7" cy="747.8" r="7.9" fill="url(#gAlv)" stroke="#222" stroke-width="1.05"/>
<circle cx="73.3" cy="757.6" r="7.9" fill="url(#gAlv)" stroke="#222" stroke-width="1.05"/>
<circle cx="84.1" cy="757.0" r="7.9" fill="url(#gAlv)" stroke="#222" stroke-width="1.05"/>
<circle cx="95.5" cy="756.0" r="7.9" fill="url(#gAlv)" stroke="#222" stroke-width="1.05"/>
<circle cx="78.3" cy="768.4" r="7.9" fill="url(#gAlv)" stroke="#222" stroke-width="1.05"/>
<circle cx="89.6" cy="766.4" r="7.9" fill="url(#gAlv)" stroke="#222" stroke-width="1.05"/>
<circle cx="143.3" cy="740.7" r="7.9" fill="url(#gAlv)" stroke="#222" stroke-width="1.05"/>
<circle cx="154.5" cy="741.1" r="7.9" fill="url(#gAlv)" stroke="#222" stroke-width="1.05"/>
<circle cx="138.0" cy="749.3" r="7.9" fill="url(#gAlv)" stroke="#222" stroke-width="1.05"/>
<circle cx="148.2" cy="749.2" r="7.9" fill="url(#gAlv)" stroke="#222" stroke-width="1.05"/>
<circle cx="159.8" cy="749.0" r="7.9" fill="url(#gAlv)" stroke="#222" stroke-width="1.05"/>
<circle cx="133.8" cy="758.8" r="7.9" fill="url(#gAlv)" stroke="#222" stroke-width="1.05"/>
<circle cx="143.4" cy="759.3" r="7.9" fill="url(#gAlv)" stroke="#222" stroke-width="1.05"/>
<circle cx="154.9" cy="759.8" r="7.9" fill="url(#gAlv)" stroke="#222" stroke-width="1.05"/>
<circle cx="163.1" cy="759.0" r="7.9" fill="url(#gAlv)" stroke="#222" stroke-width="1.05"/>
<circle cx="138.0" cy="770.0" r="7.9" fill="url(#gAlv)" stroke="#222" stroke-width="1.05"/>
<circle cx="149.7" cy="769.8" r="7.9" fill="url(#gAlv)" stroke="#222" stroke-width="1.05"/>
<circle cx="160.0" cy="769.7" r="7.9" fill="url(#gAlv)" stroke="#222" stroke-width="1.05"/>
<circle cx="145.0" cy="779.4" r="7.9" fill="url(#gAlv)" stroke="#222" stroke-width="1.05"/>
<circle cx="153.5" cy="779.5" r="7.9" fill="url(#gAlv)" stroke="#222" stroke-width="1.05"/>
<rect x="155.3" y="659.3" width="64" height="67.5" stroke="#4a4a4a" stroke-width="1.25" stroke-dasharray="5.5,4.5" fill="none"/>
<line x1="211" y1="706.3" x2="382.5" y2="706.3" stroke="#4a4a4a" stroke-width="1.25" stroke-dasharray="5.5,4.5" fill="none"/>
<clipPath id="cEcm"><rect x="642" y="34" width="156" height="473"/></clipPath>
<g fill="#f7bcb5" clip-path="url(#cEcm)">
<path d="M602.1,297.8 L666.3,500.4 L671.5,498.7Z"/>
<path d="M611.3,104.0 L666.3,222.2 L669.4,220.8Z"/>
<path d="M678.9,314.3 L606.7,486.5 L682.9,316.0Z"/>
<path d="M591.1,129.4 L695.5,293.8 L699.0,291.5Z"/>
<path d="M612.0,-25.5 L684.1,198.3 L617.0,-27.1Z"/>
<path d="M666.4,71.4 L634.1,202.4 L639.4,203.5Z"/>
<path d="M702.3,360.6 L652.5,456.2 L608.0,554.4 L657.8,458.8Z"/>
<path d="M590.3,189.0 L720.2,387.9 L595.1,186.0Z"/>
<path d="M620.8,447.0 L658.2,537.1 L699.2,625.7 L661.8,535.6Z"/>
<path d="M628.4,288.1 L694.5,537.2 L699.2,535.9Z"/>
<path d="M605.5,92.6 L726.1,320.0 L609.9,90.3Z"/>
<path d="M644.2,269.4 L691.7,432.5 L649.4,267.9Z"/>
<path d="M722.1,298.4 L620.7,491.3 L624.5,493.3Z"/>
<path d="M632.2,233.2 L720.2,461.7 L723.8,460.2Z"/>
<path d="M713.3,-35.8 L675.1,75.2 L642.1,187.9 L680.4,76.9Z"/>
<path d="M657.8,320.0 L705.3,445.8 L710.5,443.7Z"/>
<path d="M631.7,348.7 L738.9,508.3 L635.6,346.1Z"/>
<path d="M735.9,41.5 L634.7,258.0 L740.3,43.6Z"/>
<path d="M649.0,422.9 L689.2,510.1 L732.5,595.8 L692.4,508.6Z"/>
<path d="M652.6,1.7 L732.6,209.9 L656.2,0.3Z"/>
<path d="M719.7,125.8 L694.4,250.6 L672.5,376.0 L697.8,251.2Z"/>
<path d="M664.3,262.9 L731.7,485.1 L668.1,261.8Z"/>
<path d="M672.3,116.5 L731.9,301.3 L675.9,115.4Z"/>
<path d="M658.4,322.7 L702.6,428.1 L751.6,531.2 L707.4,425.9Z"/>
<path d="M663.3,-38.9 L754.7,128.0 L757.9,126.2Z"/>
<path d="M677.6,323.8 L742.9,481.6 L681.4,322.3Z"/>
<path d="M673.6,370.5 L756.7,545.4 L676.7,369.0Z"/>
<path d="M670.8,102.1 L766.4,301.2 L673.9,100.6Z"/>
<path d="M737.5,140.4 L720.8,224.4 L707.3,309.1 L724.1,225.0Z"/>
<path d="M652.4,353.5 L794.3,567.9 L656.6,350.7Z"/>
<path d="M696.4,188.7 L724.5,307.4 L757.5,424.8 L729.4,306.1Z"/>
<path d="M762.2,292.7 L694.5,519.1 L765.9,293.9Z"/>
<path d="M749.6,35.2 L713.6,281.5 L753.3,35.7Z"/>
<path d="M779.9,395.7 L691.2,609.4 L784.6,397.7Z"/>
<path d="M692.6,439.0 L735.8,518.2 L784.0,594.3 L740.9,515.2Z"/>
<path d="M760.1,24.6 L720.3,265.2 L763.7,25.2Z"/>
<path d="M796.7,134.2 L692.6,335.4 L800.0,135.9Z"/>
<path d="M768.8,109.8 L722.9,318.2 L774.5,111.1Z"/>
<path d="M789.2,409.3 L711.4,652.9 L792.9,410.5Z"/>
<path d="M719.2,38.5 L788.2,205.9 L792.8,203.9Z"/>
<path d="M770.9,293.1 L742.5,433.1 L775.0,293.9Z"/>
<path d="M727.0,241.0 L757.1,301.5 L790.5,360.3 L760.5,299.7Z"/>
<path d="M717.8,-2.5 L809.9,236.9 L812.9,235.7Z"/>
<path d="M732.7,337.7 L795.8,566.1 L736.3,336.8Z"/>
<path d="M804.9,70.7 L768.3,166.3 L735.9,263.4 L772.5,167.8Z"/>
<path d="M816.3,-4.6 L727.0,159.4 L731.5,161.7Z"/>
<path d="M802.6,363.5 L742.7,563.5 L807.8,365.1Z"/>
<path d="M789.2,36.9 L774.6,119.4 L765.4,202.7 L780.0,120.2Z"/>
<path d="M736.0,-19.2 L823.1,202.0 L739.4,-20.5Z"/>
<path d="M752.6,364.9 L812.8,536.6 L756.6,363.6Z"/>
<path d="M757.0,291.1 L814.6,508.2 L819.9,506.7Z"/>
<path d="M826.0,320.2 L753.2,516.0 L829.1,321.4Z"/>
<path d="M846.4,16.2 L738.1,231.1 L742.7,233.4Z"/>
<path d="M767.6,276.0 L824.4,478.3 L828.3,477.2Z"/>
<path d="M758.9,418.3 L798.5,528.0 L842.6,636.0 L803.1,526.2Z"/>
<path d="M827.5,304.9 L776.3,447.0 L781.7,448.8Z"/>
<path d="M763.7,234.8 L802.1,309.1 L845.6,380.5 L807.2,306.2Z"/>
<path d="M845.3,272.2 L805.5,350.6 L770.1,431.1 L809.9,352.7Z"/>
</g>
<rect x="798.5" y="0" width="2" height="510" fill="#fff"/>
<filter id="fb" x="-20%" y="-20%" width="140%" height="140%"><feGaussianBlur stdDeviation="2.5"/></filter>
<rect x="688" y="33" width="112" height="47" fill="#fff" filter="url(#fb)"/>
<rect x="679" y="120" width="120" height="48" fill="#fff" filter="url(#fb)"/>
<rect x="683" y="313" width="117" height="50" fill="#fff" filter="url(#fb)"/>
<rect x="727" y="452" width="75" height="56" fill="#fff" filter="url(#fb)"/>
<path d="M638.9,281.0 C640.4,284.3 644.5,295.1 647.8,301.0 C651.1,306.9 656.2,312.9 658.9,316.7 C661.6,320.5 663.1,322.8 664.0,324.0" fill="none" stroke="#ee6767" stroke-width="6.5"/>
<path d="M662.0,354.4 C660.3,354.8 654.4,354.8 652.0,356.7 C649.6,358.6 648.7,361.2 647.8,365.6 C646.9,370.0 648.2,377.1 646.7,383.0 C645.2,388.9 640.2,398.0 638.9,401.0" fill="none" stroke="#ee6767" stroke-width="6"/>
<path d="M686.7,259.0 C685.8,260.5 682.4,264.9 681.0,267.8 C679.6,270.8 678.1,273.7 678.5,276.7 C678.9,279.7 683.2,281.9 683.3,285.6 C683.4,289.3 681.1,295.2 678.9,298.9 C676.7,302.6 672.6,304.1 670.0,307.8 C667.4,311.5 664.8,315.8 663.3,321.0 C661.8,326.2 661.0,332.3 661.0,339.0 C661.0,345.7 661.8,353.7 663.3,361.0 C664.8,368.3 667.4,375.6 670.0,383.0 C672.6,390.4 677.1,398.9 678.9,405.6 C680.7,412.3 681.0,417.1 681.0,423.0 C681.0,428.9 679.3,438.0 679.0,441.0" fill="none" stroke="#ee6767" stroke-width="11"/>
<ellipse cx="686.7" cy="259.5" rx="5" ry="4.3" fill="#9a2546" stroke="#5e1128" stroke-width="0.8" transform="rotate(-30 686.7 259.5)"/>
<ellipse cx="687.3" cy="259.2" rx="2.8" ry="2.3" fill="#c85a72" transform="rotate(-30 687.3 259.2)"/>
<ellipse cx="679" cy="442" rx="5.2" ry="4" fill="#9a2546" stroke="#5e1128" stroke-width="0.8" transform="rotate(5 679 442)"/>
<ellipse cx="679.5" cy="441.8" rx="3" ry="2.2" fill="#c85a72" transform="rotate(5 679.5 441.8)"/>
<path d="M654.0,31.0 C640.0,57.4 639.4,84.9 652.0,112.0 C666.0,85.6 666.6,58.1 654.0,31.0Z" fill="url(#gSmc)" stroke="#2f2f2f" stroke-width="1" stroke-linejoin="round"/>
<ellipse cx="654" cy="77" rx="5.5" ry="9" fill="url(#gGrN)"/>
<path d="M652.0,105.0 C638.4,134.2 639.4,163.8 655.0,192.0 C668.6,162.8 667.6,133.2 652.0,105.0Z" fill="url(#gSmc)" stroke="#2f2f2f" stroke-width="1" stroke-linejoin="round"/>
<ellipse cx="655" cy="145" rx="5.5" ry="9" fill="url(#gGrN)"/>
<path d="M652.5,212.0 C640.7,242.4 643.6,272.4 661.0,300.0 C672.8,269.6 669.9,239.6 652.5,212.0Z" fill="url(#gSmc)" stroke="#2f2f2f" stroke-width="1" stroke-linejoin="round"/>
<ellipse cx="656" cy="255" rx="5.5" ry="9" fill="url(#gGrN)"/>
<path d="M659.0,380.0 C642.0,408.9 638.1,440.3 647.5,472.5 C664.5,443.6 668.4,412.2 659.0,380.0Z" fill="url(#gSmc)" stroke="#2f2f2f" stroke-width="1" stroke-linejoin="round"/>
<ellipse cx="652" cy="426" rx="5.5" ry="9" fill="url(#gGrN)"/>
<rect x="546" y="36" width="91.20059880239523" height="46" rx="8" fill="url(#gCil)" stroke="#2f2f2f" stroke-width="1"/>
<ellipse cx="611.9" cy="58.3" rx="12.5" ry="9.3" fill="url(#gTealN)"/>
<path d="M546.5,44.0 q-5.5,0.6 -11.0,-1.0" fill="none" stroke="#5ab7cf" stroke-width="1.3"/>
<path d="M546.5,54.0 q-5.5,1.2 -11.0,-2.0" fill="none" stroke="#5ab7cf" stroke-width="1.3"/>
<path d="M546.5,64.0 q-5.5,-1.2 -11.0,2.0" fill="none" stroke="#5ab7cf" stroke-width="1.3"/>
<path d="M546.5,74.0 q-5.5,-0.6 -11.0,1.0" fill="none" stroke="#5ab7cf" stroke-width="1.3"/>
<rect x="546" y="82" width="92.4360778443114" height="45.7" rx="8" fill="url(#gCil)" stroke="#2f2f2f" stroke-width="1"/>
<ellipse cx="612.8" cy="105" rx="12.5" ry="9.3" fill="url(#gTealN)"/>
<path d="M546.5,90.0 q-5.5,1.2 -11.0,-2.0" fill="none" stroke="#5ab7cf" stroke-width="1.3"/>
<path d="M546.5,99.9 q-5.5,-1.2 -11.0,2.0" fill="none" stroke="#5ab7cf" stroke-width="1.3"/>
<path d="M546.5,109.8 q-5.5,-0.6 -11.0,1.0" fill="none" stroke="#5ab7cf" stroke-width="1.3"/>
<path d="M546.5,119.7 q-5.5,1.2 -11.0,-2.0" fill="none" stroke="#5ab7cf" stroke-width="1.3"/>
<rect x="539" y="128" width="100.63922155688624" height="43" rx="8" fill="url(#gGob)" stroke="#2f2f2f" stroke-width="1"/>
<ellipse cx="613.7" cy="150.8" rx="12.5" ry="9" fill="url(#gPinkN)"/>
<rect x="557" y="172" width="79.811377245509" height="42" rx="8" fill="url(#gClub)" stroke="#2f2f2f" stroke-width="1"/>
<ellipse cx="610" cy="192.5" rx="12" ry="9" fill="url(#gPinkN)"/>
<circle cx="562.4" cy="178.7" r="1.5" fill="#ec6c69" opacity="0.85"/>
<circle cx="570.9" cy="177.9" r="1.5" fill="#ec6c69" opacity="0.85"/>
<circle cx="577.9" cy="178.1" r="1.5" fill="#ec6c69" opacity="0.85"/>
<circle cx="565.1" cy="186.3" r="1.5" fill="#ec6c69" opacity="0.85"/>
<circle cx="572.2" cy="185.4" r="1.5" fill="#ec6c69" opacity="0.85"/>
<circle cx="579.3" cy="184.9" r="1.5" fill="#ec6c69" opacity="0.85"/>
<circle cx="562.7" cy="192.2" r="1.5" fill="#ec6c69" opacity="0.85"/>
<circle cx="570.4" cy="193.3" r="1.5" fill="#ec6c69" opacity="0.85"/>
<circle cx="576.9" cy="192.9" r="1.5" fill="#ec6c69" opacity="0.85"/>
<circle cx="565.6" cy="199.5" r="1.5" fill="#ec6c69" opacity="0.85"/>
<circle cx="572.1" cy="200.3" r="1.5" fill="#ec6c69" opacity="0.85"/>
<circle cx="579.8" cy="200.4" r="1.5" fill="#ec6c69" opacity="0.85"/>
<circle cx="562.0" cy="207.7" r="1.5" fill="#ec6c69" opacity="0.85"/>
<circle cx="576.8" cy="207.8" r="1.5" fill="#ec6c69" opacity="0.85"/>
<rect x="552" y="215" width="89.375" height="45" rx="8" fill="url(#gCil)" stroke="#2f2f2f" stroke-width="1"/>
<ellipse cx="616" cy="237.5" rx="12" ry="9" fill="url(#gTealN)"/>
<path d="M552.5,223.0 q-5.5,0.6 -11.0,-1.0" fill="none" stroke="#5ab7cf" stroke-width="1.3"/>
<path d="M552.5,232.7 q-5.5,0.6 -11.0,-1.0" fill="none" stroke="#5ab7cf" stroke-width="1.3"/>
<path d="M552.5,242.3 q-5.5,-1.2 -11.0,2.0" fill="none" stroke="#5ab7cf" stroke-width="1.3"/>
<path d="M552.5,252.0 q-5.5,1.2 -11.0,-2.0" fill="none" stroke="#5ab7cf" stroke-width="1.3"/>
<rect x="539" y="261" width="102.82000000000005" height="42" rx="8" fill="url(#gGob)" stroke="#2f2f2f" stroke-width="1"/>
<ellipse cx="610" cy="282" rx="12" ry="9" fill="url(#gPinkN)"/>
<rect x="557" y="304" width="80.25" height="42" rx="8" fill="url(#gClub)" stroke="#2f2f2f" stroke-width="1"/>
<ellipse cx="610" cy="325" rx="12" ry="9" fill="url(#gPinkN)"/>
<circle cx="570.7" cy="309.9" r="1.5" fill="#ec6c69" opacity="0.85"/>
<circle cx="565.6" cy="317.7" r="1.5" fill="#ec6c69" opacity="0.85"/>
<circle cx="579.1" cy="317.1" r="1.5" fill="#ec6c69" opacity="0.85"/>
<circle cx="562.2" cy="324.8" r="1.5" fill="#ec6c69" opacity="0.85"/>
<circle cx="577.1" cy="325.9" r="1.5" fill="#ec6c69" opacity="0.85"/>
<circle cx="565.6" cy="333.0" r="1.5" fill="#ec6c69" opacity="0.85"/>
<circle cx="572.2" cy="332.0" r="1.5" fill="#ec6c69" opacity="0.85"/>
<circle cx="579.8" cy="333.5" r="1.5" fill="#ec6c69" opacity="0.85"/>
<circle cx="562.2" cy="340.2" r="1.5" fill="#ec6c69" opacity="0.85"/>
<rect x="547" y="346" width="92.96000000000004" height="44" rx="8" fill="url(#gCil)" stroke="#2f2f2f" stroke-width="1"/>
<ellipse cx="612.5" cy="367.5" rx="12" ry="9" fill="url(#gTealN)"/>
<path d="M547.5,354.0 q-5.5,1.2 -11.0,-2.0" fill="none" stroke="#5ab7cf" stroke-width="1.3"/>
<path d="M547.5,363.3 q-5.5,1.2 -11.0,-2.0" fill="none" stroke="#5ab7cf" stroke-width="1.3"/>
<path d="M547.5,372.7 q-5.5,-0.6 -11.0,1.0" fill="none" stroke="#5ab7cf" stroke-width="1.3"/>
<path d="M547.5,382.0 q-5.5,0.6 -11.0,-1.0" fill="none" stroke="#5ab7cf" stroke-width="1.3"/>
<rect x="555" y="391" width="83.65499999999997" height="41" rx="8" fill="url(#gCil)" stroke="#2f2f2f" stroke-width="1"/>
<ellipse cx="605" cy="414" rx="12" ry="9" fill="url(#gTealN)"/>
<path d="M555.5,399.0 q-5.5,-1.2 -11.0,2.0" fill="none" stroke="#5ab7cf" stroke-width="1.3"/>
<path d="M555.5,407.3 q-5.5,0.6 -11.0,-1.0" fill="none" stroke="#5ab7cf" stroke-width="1.3"/>
<path d="M555.5,415.7 q-5.5,-1.2 -11.0,2.0" fill="none" stroke="#5ab7cf" stroke-width="1.3"/>
<path d="M555.5,424.0 q-5.5,0.6 -11.0,-1.0" fill="none" stroke="#5ab7cf" stroke-width="1.3"/>
<rect x="567" y="434" width="66.44000000000005" height="36" rx="8" fill="url(#gClub)" stroke="#2f2f2f" stroke-width="1"/>
<ellipse cx="611" cy="451" rx="11" ry="8" fill="url(#gPinkN)"/>
<circle cx="573.0" cy="439.8" r="1.5" fill="#ec6c69" opacity="0.85"/>
<circle cx="579.0" cy="439.9" r="1.5" fill="#ec6c69" opacity="0.85"/>
<circle cx="586.3" cy="440.1" r="1.5" fill="#ec6c69" opacity="0.85"/>
<circle cx="575.1" cy="447.2" r="1.5" fill="#ec6c69" opacity="0.85"/>
<circle cx="582.2" cy="448.0" r="1.5" fill="#ec6c69" opacity="0.85"/>
<circle cx="590.4" cy="448.6" r="1.5" fill="#ec6c69" opacity="0.85"/>
<circle cx="579.5" cy="455.1" r="1.5" fill="#ec6c69" opacity="0.85"/>
<circle cx="586.2" cy="455.6" r="1.5" fill="#ec6c69" opacity="0.85"/>
<circle cx="583.5" cy="463.6" r="1.5" fill="#ec6c69" opacity="0.85"/>
<circle cx="589.6" cy="465.0" r="1.5" fill="#ec6c69" opacity="0.85"/>
<rect x="562" y="470" width="74.43499999999995" height="31" rx="8" fill="url(#gGob)" stroke="#2f2f2f" stroke-width="1"/>
<ellipse cx="618" cy="485.5" rx="9" ry="7" fill="url(#gPinkN)"/>
<rect x="582" y="502" width="53.637500000000045" height="25" rx="8" fill="url(#gCil)" stroke="#2f2f2f" stroke-width="1"/>
<ellipse cx="620.5" cy="514" rx="8" ry="6" fill="url(#gTealN)"/>
<path d="M582.5,505.5 q-4.0,0.6 -8.0,-1.0" fill="none" stroke="#5ab7cf" stroke-width="1.3"/>
<path d="M582.5,511.5 q-4.0,-1.2 -8.0,2.0" fill="none" stroke="#5ab7cf" stroke-width="1.3"/>
<path d="M582.5,517.5 q-4.0,1.2 -8.0,-2.0" fill="none" stroke="#5ab7cf" stroke-width="1.3"/>
<path d="M582.5,523.5 q-4.0,1.2 -8.0,-2.0" fill="none" stroke="#5ab7cf" stroke-width="1.3"/>
<rect x="594" y="527" width="41.0625" height="21" rx="8" fill="url(#gCil)" stroke="#2f2f2f" stroke-width="1"/>
<ellipse cx="624" cy="538" rx="7" ry="5" fill="url(#gTealN)"/>
<path d="M594.5,530.5 q-4.0,-0.6 -8.0,1.0" fill="none" stroke="#5ab7cf" stroke-width="1.3"/>
<path d="M594.5,535.2 q-4.0,-1.2 -8.0,2.0" fill="none" stroke="#5ab7cf" stroke-width="1.3"/>
<path d="M594.5,539.8 q-4.0,-1.2 -8.0,2.0" fill="none" stroke="#5ab7cf" stroke-width="1.3"/>
<path d="M594.5,544.5 q-4.0,-1.2 -8.0,2.0" fill="none" stroke="#5ab7cf" stroke-width="1.3"/>
<rect x="590" y="549" width="44.53750000000002" height="19" rx="8" fill="url(#gGob)" stroke="#2f2f2f" stroke-width="1"/>
<ellipse cx="625" cy="559" rx="6" ry="5" fill="url(#gPinkN)"/>
<rect x="604" y="569" width="30.0" height="14" rx="6.0" fill="url(#gClub)" stroke="#2f2f2f" stroke-width="1"/>
<ellipse cx="622.5" cy="576" rx="5" ry="4" fill="url(#gPinkN)"/>
<circle cx="610.8" cy="574.1" r="1.0" fill="#ec6c69" opacity="0.85"/>
<circle cx="613.1" cy="577.3" r="1.0" fill="#ec6c69" opacity="0.85"/>
<circle cx="620.0" cy="576.3" r="1.0" fill="#ec6c69" opacity="0.85"/>
<circle cx="627.6" cy="576.0" r="1.0" fill="#ec6c69" opacity="0.85"/>
<ellipse cx="622.185628742515" cy="77" rx="15" ry="20.5" fill="url(#gBas)" stroke="#2f2f2f" stroke-width="1" transform="rotate(-5 622.185628742515 77)"/>
<ellipse cx="622.685628742515" cy="82" rx="6.5" ry="7.5" fill="url(#gBasN)"/>
<ellipse cx="623.748502994012" cy="135" rx="15" ry="20.5" fill="url(#gBas)" stroke="#2f2f2f" stroke-width="1" transform="rotate(-5 623.748502994012 135)"/>
<ellipse cx="624.248502994012" cy="140" rx="6.5" ry="7.5" fill="url(#gBasN)"/>
<ellipse cx="625.64" cy="214" rx="15" ry="20.5" fill="url(#gBas)" stroke="#2f2f2f" stroke-width="1" transform="rotate(-5 625.64 214)"/>
<ellipse cx="626.14" cy="219" rx="6.5" ry="7.5" fill="url(#gBasN)"/>
<ellipse cx="626.195" cy="269.5" rx="15" ry="20.5" fill="url(#gBas)" stroke="#2f2f2f" stroke-width="1" transform="rotate(-5 626.195 269.5)"/>
<ellipse cx="626.695" cy="274.5" rx="6.5" ry="7.5" fill="url(#gBasN)"/>
<ellipse cx="625.03" cy="349" rx="15" ry="20.5" fill="url(#gBas)" stroke="#2f2f2f" stroke-width="1" transform="rotate(-5 625.03 349)"/>
<ellipse cx="625.53" cy="354" rx="6.5" ry="7.5" fill="url(#gBasN)"/>
<ellipse cx="623.35" cy="405" rx="15" ry="20.5" fill="url(#gBas)" stroke="#2f2f2f" stroke-width="1" transform="rotate(-5 623.35 405)"/>
<ellipse cx="623.85" cy="410" rx="6.5" ry="7.5" fill="url(#gBasN)"/>
<path d="M598.5,301.5 C606,298 614,292 621,286.5 C626,283 632,282.5 637,285 C640,290 641,300 640,312 C638,316 634,317 630,316.5 C624,315.5 619,312 615,309 C610,306 604,304 598.5,301.5 Z" fill="url(#gNeu)" stroke="#2f2f2f" stroke-width="1"/>
<ellipse cx="628.5" cy="305" rx="5" ry="5" fill="#a3d8e6"/>
<ellipse cx="628.5" cy="305" rx="2.8" ry="2.8" fill="#8bcde0"/>
<path d="M635,33 L639.5,200 L640.5,300 L637.5,400 L634.5,500 L633,560 L632,592 L634,592 L635.5,560 L638,500 L641.5,400 L645,300 L645.5,200 L645,33Z" fill="#2d4a8c"/>
<path d="M632.811377245509,177.86 C637.811377245509,177.86 641.811377245509,180.86 641.811377245509,185.86 C641.811377245509,190.86 637.811377245509,192.86 632.811377245509,193.86" fill="#f39a95" stroke="#2f2f2f" stroke-width="1"/>
<path d="M633.25,309.86 C638.25,309.86 642.25,312.86 642.25,317.86 C642.25,322.86 638.25,324.86 633.25,325.86" fill="#f39a95" stroke="#2f2f2f" stroke-width="1"/>
<path d="M629.44,437.88 C634.44,437.88 638.44,440.88 638.44,445.88 C638.44,450.88 634.44,452.88 629.44,453.88" fill="#f39a95" stroke="#2f2f2f" stroke-width="1"/>
<path d="M419,597 C414,612 418,640 428,658 C436,673 432,690 424,708 C414,730 409,755 410,785 C411,805 420,820 419,836 C417,852 400,862 382,865" fill="none" stroke="#ef6b6c" stroke-width="11"/>
<path d="M430,678 C448,690 476,694 496,704 C510,712 514,720 517,728" fill="none" stroke="#ef6b6c" stroke-width="6"/>
<path d="M413,737 C430,742 448,752 462,768 C474,782 490,790 517,786" fill="none" stroke="#ef6b6c" stroke-width="6"/>
<path d="M412,760 C428,770 436,790 444,812 C450,828 466,836 486,834 C500,832 510,826 520,822" fill="none" stroke="#ef6b6c" stroke-width="6"/>
<path d="M633.0,594.0 C631.7,594.0 632.5,603.3 628.0,610.0 C623.5,616.7 614.0,626.0 606.0,634.0 C598.0,642.0 587.7,651.3 580.0,658.0 C572.3,664.7 566.5,668.3 560.0,674.0 C553.5,679.7 546.5,686.0 541.0,692.0 C535.5,698.0 530.7,702.3 527.0,710.0 C523.3,717.7 520.2,728.3 519.0,738.0 C517.8,747.7 518.3,758.2 520.0,768.0 C521.7,777.8 524.7,788.7 529.0,797.0 C533.3,805.3 539.2,811.5 546.0,818.0 C552.8,824.5 562.3,831.5 570.0,836.0 C577.7,840.5 585.0,843.0 592.0,845.0 C599.0,847.0 605.3,847.8 612.0,848.0 C618.7,848.2 625.7,847.3 632.0,846.0 C638.3,844.7 644.3,843.0 650.0,840.0 C655.7,837.0 661.0,832.8 666.0,828.0 C671.0,823.2 676.3,817.8 680.0,811.0 C683.7,804.2 686.1,795.2 688.0,787.0 C689.9,778.8 690.8,770.2 691.5,762.0 C692.2,753.8 692.8,746.2 692.5,738.0 C692.2,729.8 691.6,721.2 690.0,713.0 C688.4,704.8 686.8,697.1 683.0,689.0 C679.2,680.9 672.2,672.7 667.0,664.5 C661.8,656.3 655.8,646.4 652.0,640.0 C648.2,633.6 646.7,631.0 644.0,626.0 C641.3,621.0 637.8,615.3 636.0,610.0 C634.2,604.7 634.3,594.0 633.0,594.0Z" fill="none" stroke="#2b2b2b" stroke-width="8"/>
<path d="M619.0,613.0 C618.0,613.0 606.5,628.0 600.0,632.0 C593.5,636.0 586.5,635.7 580.0,637.0 C573.5,638.3 565.8,637.5 561.0,640.0 C556.2,642.5 553.5,647.3 551.0,652.0 C548.5,656.7 548.0,662.7 546.0,668.0 C544.0,673.3 541.5,678.7 539.0,684.0 C536.5,689.3 530.0,699.7 531.0,700.0 C532.0,700.3 539.3,691.3 545.0,686.0 C550.7,680.7 557.8,674.3 565.0,668.0 C572.2,661.7 581.2,654.0 588.0,648.0 C594.8,642.0 600.8,637.8 606.0,632.0 C611.2,626.2 620.0,613.0 619.0,613.0Z" fill="#2b2b2b" stroke="#2b2b2b" stroke-width="2.2" stroke-linejoin="round"/>
<path d="M528.0,700.0 C527.2,698.0 518.5,720.3 514.0,728.0 C509.5,735.7 503.7,741.3 501.0,746.0 C498.3,750.7 497.7,752.5 498.0,756.0 C498.3,759.5 500.2,763.0 503.0,767.0 C505.8,771.0 511.8,775.8 515.0,780.0 C518.2,784.2 519.0,787.2 522.0,792.0 C525.0,796.8 528.7,804.0 533.0,809.0 C537.3,814.0 548.5,823.7 548.0,822.0 C547.5,820.3 534.5,807.7 530.0,799.0 C525.5,790.3 522.8,779.8 521.0,770.0 C519.2,760.2 517.8,751.7 519.0,740.0 C520.2,728.3 528.8,702.0 528.0,700.0Z" fill="#2b2b2b" stroke="#2b2b2b" stroke-width="2.2" stroke-linejoin="round"/>
<path d="M637.0,610.0 C638.3,610.0 647.2,621.7 652.0,626.0 C656.8,630.3 661.0,632.7 666.0,636.0 C671.0,639.3 678.0,642.0 682.0,646.0 C686.0,650.0 688.8,655.0 690.0,660.0 C691.2,665.0 690.2,671.2 689.0,676.0 C687.8,680.8 685.3,688.7 683.0,689.0 C680.7,689.3 678.0,682.5 675.0,678.0 C672.0,673.5 669.0,668.3 665.0,662.0 C661.0,655.7 654.5,646.0 651.0,640.0 C647.5,634.0 646.3,631.0 644.0,626.0 C641.7,621.0 635.7,610.0 637.0,610.0Z" fill="#2b2b2b" stroke="#2b2b2b" stroke-width="2.2" stroke-linejoin="round"/>
<path d="M692.0,733.0 C693.1,730.7 696.0,742.7 698.0,748.0 C700.0,753.3 702.7,758.8 704.0,765.0 C705.3,771.2 706.2,779.2 706.0,785.0 C705.8,790.8 705.0,795.0 703.0,800.0 C701.0,805.0 697.8,810.0 694.0,815.0 C690.2,820.0 685.0,825.5 680.0,830.0 C675.0,834.5 668.2,840.3 664.0,842.0 C659.8,843.7 654.3,842.3 655.0,840.0 C655.7,837.7 663.7,832.8 668.0,828.0 C672.3,823.2 677.7,817.8 681.0,811.0 C684.3,804.2 686.2,795.2 688.0,787.0 C689.8,778.8 690.8,771.0 691.5,762.0 C692.2,753.0 690.9,735.3 692.0,733.0Z" fill="#2b2b2b" stroke="#2b2b2b" stroke-width="2.2" stroke-linejoin="round"/>
<path d="M633.0,594.0 C631.7,594.0 632.5,603.3 628.0,610.0 C623.5,616.7 614.0,626.0 606.0,634.0 C598.0,642.0 587.7,651.3 580.0,658.0 C572.3,664.7 566.5,668.3 560.0,674.0 C553.5,679.7 546.5,686.0 541.0,692.0 C535.5,698.0 530.7,702.3 527.0,710.0 C523.3,717.7 520.2,728.3 519.0,738.0 C517.8,747.7 518.3,758.2 520.0,768.0 C521.7,777.8 524.7,788.7 529.0,797.0 C533.3,805.3 539.2,811.5 546.0,818.0 C552.8,824.5 562.3,831.5 570.0,836.0 C577.7,840.5 585.0,843.0 592.0,845.0 C599.0,847.0 605.3,847.8 612.0,848.0 C618.7,848.2 625.7,847.3 632.0,846.0 C638.3,844.7 644.3,843.0 650.0,840.0 C655.7,837.0 661.0,832.8 666.0,828.0 C671.0,823.2 676.3,817.8 680.0,811.0 C683.7,804.2 686.1,795.2 688.0,787.0 C689.9,778.8 690.8,770.2 691.5,762.0 C692.2,753.8 692.8,746.2 692.5,738.0 C692.2,729.8 691.6,721.2 690.0,713.0 C688.4,704.8 686.8,697.1 683.0,689.0 C679.2,680.9 672.2,672.7 667.0,664.5 C661.8,656.3 655.8,646.4 652.0,640.0 C648.2,633.6 646.7,631.0 644.0,626.0 C641.3,621.0 637.8,615.3 636.0,610.0 C634.2,604.7 634.3,594.0 633.0,594.0Z" fill="none" stroke="#a4a9d5" stroke-width="6"/>
<path d="M619.0,613.0 C618.0,613.0 606.5,628.0 600.0,632.0 C593.5,636.0 586.5,635.7 580.0,637.0 C573.5,638.3 565.8,637.5 561.0,640.0 C556.2,642.5 553.5,647.3 551.0,652.0 C548.5,656.7 548.0,662.7 546.0,668.0 C544.0,673.3 541.5,678.7 539.0,684.0 C536.5,689.3 530.0,699.7 531.0,700.0 C532.0,700.3 539.3,691.3 545.0,686.0 C550.7,680.7 557.8,674.3 565.0,668.0 C572.2,661.7 581.2,654.0 588.0,648.0 C594.8,642.0 600.8,637.8 606.0,632.0 C611.2,626.2 620.0,613.0 619.0,613.0Z" fill="url(#gAT1)"/>
<path d="M528.0,700.0 C527.2,698.0 518.5,720.3 514.0,728.0 C509.5,735.7 503.7,741.3 501.0,746.0 C498.3,750.7 497.7,752.5 498.0,756.0 C498.3,759.5 500.2,763.0 503.0,767.0 C505.8,771.0 511.8,775.8 515.0,780.0 C518.2,784.2 519.0,787.2 522.0,792.0 C525.0,796.8 528.7,804.0 533.0,809.0 C537.3,814.0 548.5,823.7 548.0,822.0 C547.5,820.3 534.5,807.7 530.0,799.0 C525.5,790.3 522.8,779.8 521.0,770.0 C519.2,760.2 517.8,751.7 519.0,740.0 C520.2,728.3 528.8,702.0 528.0,700.0Z" fill="url(#gAT1)"/>
<path d="M637.0,610.0 C638.3,610.0 647.2,621.7 652.0,626.0 C656.8,630.3 661.0,632.7 666.0,636.0 C671.0,639.3 678.0,642.0 682.0,646.0 C686.0,650.0 688.8,655.0 690.0,660.0 C691.2,665.0 690.2,671.2 689.0,676.0 C687.8,680.8 685.3,688.7 683.0,689.0 C680.7,689.3 678.0,682.5 675.0,678.0 C672.0,673.5 669.0,668.3 665.0,662.0 C661.0,655.7 654.5,646.0 651.0,640.0 C647.5,634.0 646.3,631.0 644.0,626.0 C641.7,621.0 635.7,610.0 637.0,610.0Z" fill="url(#gAT1)"/>
<path d="M692.0,733.0 C693.1,730.7 696.0,742.7 698.0,748.0 C700.0,753.3 702.7,758.8 704.0,765.0 C705.3,771.2 706.2,779.2 706.0,785.0 C705.8,790.8 705.0,795.0 703.0,800.0 C701.0,805.0 697.8,810.0 694.0,815.0 C690.2,820.0 685.0,825.5 680.0,830.0 C675.0,834.5 668.2,840.3 664.0,842.0 C659.8,843.7 654.3,842.3 655.0,840.0 C655.7,837.7 663.7,832.8 668.0,828.0 C672.3,823.2 677.7,817.8 681.0,811.0 C684.3,804.2 686.2,795.2 688.0,787.0 C689.8,778.8 690.8,771.0 691.5,762.0 C692.2,753.0 690.9,735.3 692.0,733.0Z" fill="url(#gAT1)"/>
<path d="M633.0,594.0 C631.7,594.0 632.5,603.3 628.0,610.0 C623.5,616.7 614.0,626.0 606.0,634.0 C598.0,642.0 587.7,651.3 580.0,658.0 C572.3,664.7 566.5,668.3 560.0,674.0 C553.5,679.7 546.5,686.0 541.0,692.0 C535.5,698.0 530.7,702.3 527.0,710.0 C523.3,717.7 520.2,728.3 519.0,738.0 C517.8,747.7 518.3,758.2 520.0,768.0 C521.7,777.8 524.7,788.7 529.0,797.0 C533.3,805.3 539.2,811.5 546.0,818.0 C552.8,824.5 562.3,831.5 570.0,836.0 C577.7,840.5 585.0,843.0 592.0,845.0 C599.0,847.0 605.3,847.8 612.0,848.0 C618.7,848.2 625.7,847.3 632.0,846.0 C638.3,844.7 644.3,843.0 650.0,840.0 C655.7,837.0 661.0,832.8 666.0,828.0 C671.0,823.2 676.3,817.8 680.0,811.0 C683.7,804.2 686.1,795.2 688.0,787.0 C689.9,778.8 690.8,770.2 691.5,762.0 C692.2,753.8 692.8,746.2 692.5,738.0 C692.2,729.8 691.6,721.2 690.0,713.0 C688.4,704.8 686.8,697.1 683.0,689.0 C679.2,680.9 672.2,672.7 667.0,664.5 C661.8,656.3 655.8,646.4 652.0,640.0 C648.2,633.6 646.7,631.0 644.0,626.0 C641.3,621.0 637.8,615.3 636.0,610.0 C634.2,604.7 634.3,594.0 633.0,594.0Z" fill="#fff" stroke="none"/>
<path d="M626,596 L641,596 L646,606 L640,618 L633,603 L626,618 L620,606 Z" fill="#fff"/>
<rect x="628" y="586" width="10" height="11" fill="#fff"/>
<ellipse cx="566" cy="651" rx="7" ry="9" fill="url(#gBasN)" transform="rotate(30 566 651)"/>
<ellipse cx="511" cy="755" rx="6" ry="9" fill="url(#gBasN)" transform="rotate(5 511 755)"/>
<ellipse cx="676" cy="658" rx="7" ry="9" fill="url(#gBasN)" transform="rotate(-20 676 658)"/>
<ellipse cx="694" cy="790" rx="6" ry="9" fill="url(#gBasN)" transform="rotate(5 694 790)"/>
<path d="M634.0,574.0 C633.0,571.0 627.0,580.3 622.0,584.0 C617.0,587.7 609.0,591.7 604.0,596.0 C599.0,600.3 595.3,605.3 592.0,610.0 C588.7,614.7 586.2,619.5 584.0,624.0 C581.8,628.5 577.0,636.3 579.0,637.0 C581.0,637.7 590.2,631.5 596.0,628.0 C601.8,624.5 608.7,620.3 614.0,616.0 C619.3,611.7 624.7,609.0 628.0,602.0 C631.3,595.0 635.0,577.0 634.0,574.0Z" fill="url(#gSmc)" stroke="#2b2b2b" stroke-width="1" stroke-linejoin="round"/>
<ellipse cx="606" cy="609" rx="8" ry="6.5" fill="url(#gGrN)" transform="rotate(-45 606 609)"/>
<path d="M504.0,799.0 C519.5,825.4 542.6,843.4 572.0,852.0 C556.5,825.6 533.4,807.6 504.0,799.0Z" fill="url(#gSmc)" stroke="#2f2f2f" stroke-width="1" stroke-linejoin="round"/>
<ellipse cx="540" cy="826" rx="9" ry="7" fill="url(#gGrN)" transform="rotate(35 540 826)"/>
<path d="M704.0,806.0 C678.6,811.2 660.3,826.2 650.0,850.0 C675.4,844.8 693.7,829.8 704.0,806.0Z" fill="url(#gSmc)" stroke="#2f2f2f" stroke-width="1" stroke-linejoin="round"/>
<ellipse cx="680" cy="829" rx="9" ry="6.5" fill="url(#gGrN)" transform="rotate(-38 680 829)"/>
<path d="M633.0,594.0 C631.7,594.0 632.5,603.3 628.0,610.0 C623.5,616.7 614.0,626.0 606.0,634.0 C598.0,642.0 587.7,651.3 580.0,658.0 C572.3,664.7 566.5,668.3 560.0,674.0 C553.5,679.7 546.5,686.0 541.0,692.0 C535.5,698.0 530.7,702.3 527.0,710.0 C523.3,717.7 520.2,728.3 519.0,738.0 C517.8,747.7 518.3,758.2 520.0,768.0 C521.7,777.8 524.7,788.7 529.0,797.0 C533.3,805.3 539.2,811.5 546.0,818.0 C552.8,824.5 562.3,831.5 570.0,836.0 C577.7,840.5 585.0,843.0 592.0,845.0 C599.0,847.0 605.3,847.8 612.0,848.0 C618.7,848.2 625.7,847.3 632.0,846.0 C638.3,844.7 644.3,843.0 650.0,840.0 C655.7,837.0 661.0,832.8 666.0,828.0 C671.0,823.2 676.3,817.8 680.0,811.0 C683.7,804.2 686.1,795.2 688.0,787.0 C689.9,778.8 690.8,770.2 691.5,762.0 C692.2,753.8 692.8,746.2 692.5,738.0 C692.2,729.8 691.6,721.2 690.0,713.0 C688.4,704.8 686.8,697.1 683.0,689.0 C679.2,680.9 672.2,672.7 667.0,664.5 C661.8,656.3 655.8,646.4 652.0,640.0 C648.2,633.6 646.7,631.0 644.0,626.0 C641.3,621.0 637.8,615.3 636.0,610.0 C634.2,604.7 634.3,594.0 633.0,594.0Z" fill="none" stroke="#2d4a8c" stroke-width="2.2"/>
<path d="M633.2,580 L633,596" stroke="#2d4a8c" stroke-width="2.4"/>
<g transform="translate(663,598) rotate(-20)">
<rect x="-26.0" y="-16.0" width="52" height="32" rx="9.6" fill="url(#gAT2)" stroke="#2b2b2b" stroke-width="1"/>
<ellipse cx="-11.44" cy="0" rx="8.32" ry="9.92" fill="url(#gGrN)"/>
<circle cx="5.7" cy="-10.8" r="1.8" fill="#5dbf7e"/>
<circle cx="5.2" cy="-3.3" r="1.8" fill="#5dbf7e"/>
<circle cx="4.9" cy="3.1" r="1.8" fill="#5dbf7e"/>
<circle cx="4.5" cy="10.1" r="1.8" fill="#5dbf7e"/>
<circle cx="10.0" cy="-7.4" r="1.8" fill="#5dbf7e"/>
<circle cx="9.7" cy="-0.6" r="1.8" fill="#5dbf7e"/>
<circle cx="10.0" cy="7.5" r="1.8" fill="#5dbf7e"/>
<circle cx="15.4" cy="-10.4" r="1.8" fill="#5dbf7e"/>
<circle cx="15.1" cy="-3.5" r="1.8" fill="#5dbf7e"/>
<circle cx="15.2" cy="3.1" r="1.8" fill="#5dbf7e"/>
<circle cx="14.5" cy="10.2" r="1.8" fill="#5dbf7e"/>
<circle cx="19.3" cy="-6.5" r="1.8" fill="#5dbf7e"/>
<circle cx="19.6" cy="-0.0" r="1.8" fill="#5dbf7e"/>
<circle cx="19.3" cy="6.2" r="1.8" fill="#5dbf7e"/>
</g>
<g transform="translate(708,689) rotate(-20)">
<rect x="-26.0" y="-15.5" width="52" height="31" rx="9.299999999999999" fill="url(#gAT2)" stroke="#2b2b2b" stroke-width="1"/>
<ellipse cx="-11.44" cy="0" rx="8.32" ry="9.61" fill="url(#gGrN)"/>
<circle cx="4.5" cy="-10.1" r="1.8" fill="#5dbf7e"/>
<circle cx="5.0" cy="-2.9" r="1.8" fill="#5dbf7e"/>
<circle cx="5.7" cy="3.6" r="1.8" fill="#5dbf7e"/>
<circle cx="6.0" cy="10.3" r="1.8" fill="#5dbf7e"/>
<circle cx="9.7" cy="-7.5" r="1.8" fill="#5dbf7e"/>
<circle cx="10.7" cy="0.2" r="1.8" fill="#5dbf7e"/>
<circle cx="10.0" cy="6.2" r="1.8" fill="#5dbf7e"/>
<circle cx="15.1" cy="-9.8" r="1.8" fill="#5dbf7e"/>
<circle cx="14.3" cy="-3.2" r="1.8" fill="#5dbf7e"/>
<circle cx="14.8" cy="2.9" r="1.8" fill="#5dbf7e"/>
<circle cx="15.1" cy="10.1" r="1.8" fill="#5dbf7e"/>
<circle cx="20.5" cy="-7.6" r="1.8" fill="#5dbf7e"/>
<circle cx="20.5" cy="0.4" r="1.8" fill="#5dbf7e"/>
<circle cx="20.7" cy="7.2" r="1.8" fill="#5dbf7e"/>
</g>
<g transform="translate(719,721) rotate(-8)">
<rect x="-25.5" y="-15.5" width="51" height="31" rx="9.299999999999999" fill="url(#gAT2)" stroke="#2b2b2b" stroke-width="1"/>
<ellipse cx="-11.22" cy="0" rx="8.16" ry="9.61" fill="url(#gGrN)"/>
<circle cx="4.6" cy="-10.5" r="1.8" fill="#5dbf7e"/>
<circle cx="4.6" cy="-3.1" r="1.8" fill="#5dbf7e"/>
<circle cx="4.9" cy="3.3" r="1.8" fill="#5dbf7e"/>
<circle cx="5.4" cy="9.7" r="1.8" fill="#5dbf7e"/>
<circle cx="10.0" cy="-7.4" r="1.8" fill="#5dbf7e"/>
<circle cx="9.4" cy="0.6" r="1.8" fill="#5dbf7e"/>
<circle cx="9.8" cy="6.6" r="1.8" fill="#5dbf7e"/>
<circle cx="14.8" cy="-9.5" r="1.8" fill="#5dbf7e"/>
<circle cx="14.4" cy="-3.4" r="1.8" fill="#5dbf7e"/>
<circle cx="14.0" cy="3.6" r="1.8" fill="#5dbf7e"/>
<circle cx="14.0" cy="10.6" r="1.8" fill="#5dbf7e"/>
<circle cx="19.1" cy="-6.5" r="1.8" fill="#5dbf7e"/>
<circle cx="19.2" cy="0.8" r="1.8" fill="#5dbf7e"/>
<circle cx="20.2" cy="6.1" r="1.8" fill="#5dbf7e"/>
</g>
<path d="M520.6,850.6 C520.9,848.3 540.9,851.6 550.0,852.0 C559.1,852.4 566.7,851.3 575.0,853.0 C583.3,854.7 591.2,856.5 600.0,862.0 C608.8,867.5 627.5,882.3 627.5,886.0 C627.5,889.7 608.8,885.2 600.0,884.0 C591.2,882.8 583.7,882.0 575.0,879.0 C566.3,876.0 557.1,870.7 548.0,866.0 C538.9,861.3 520.3,852.9 520.6,850.6Z" fill="url(#gFib)" stroke="#2b2b2b" stroke-width="1" stroke-linejoin="round"/>
<ellipse cx="575" cy="868" rx="11" ry="7.5" fill="url(#gFibN)" transform="rotate(15 575 868)"/>
<path d="M621.0,887.0 C619.8,883.5 636.0,870.3 645.0,864.0 C654.0,857.7 662.7,852.8 675.0,849.0 C687.3,845.2 713.8,839.5 719.0,841.0 C724.2,842.5 712.2,852.5 706.0,858.0 C699.8,863.5 691.0,869.5 682.0,874.0 C673.0,878.5 662.2,882.8 652.0,885.0 C641.8,887.2 622.2,890.5 621.0,887.0Z" fill="url(#gFib)" stroke="#2b2b2b" stroke-width="1" stroke-linejoin="round"/>
<ellipse cx="668.5" cy="866" rx="11" ry="8" fill="url(#gFibN)" transform="rotate(-22 668.5 866)"/>
<path d="M705.0,836.0 C703.0,834.3 708.2,822.7 710.0,815.0 C711.8,807.3 713.7,798.3 716.0,790.0 C718.3,781.7 721.0,772.5 724.0,765.0 C727.0,757.5 730.8,750.2 734.0,745.0 C737.2,739.8 741.3,731.5 743.0,734.0 C744.7,736.5 744.2,751.5 744.0,760.0 C743.8,768.5 743.5,777.0 742.0,785.0 C740.5,793.0 738.3,801.3 735.0,808.0 C731.7,814.7 727.0,820.3 722.0,825.0 C717.0,829.7 707.0,837.7 705.0,836.0Z" fill="url(#gFib)" stroke="#2b2b2b" stroke-width="1" stroke-linejoin="round"/>
<ellipse cx="726" cy="787" rx="6.5" ry="10" fill="url(#gFibN)" transform="rotate(18 726 787)"/>
<path d="M597.0,869.0 C624.6,874.2 649.4,867.1 670.0,848.0 C642.4,842.8 617.6,849.9 597.0,869.0Z" fill="url(#gSmc)" stroke="#2f2f2f" stroke-width="1" stroke-linejoin="round"/>
<ellipse cx="628" cy="863" rx="8" ry="6" fill="url(#gGrN)" transform="rotate(-10 628 863)"/>
<path d="M546.0,819.0 C547.0,820.8 552.7,830.0 556.0,834.0 C559.3,838.0 563.2,840.3 566.0,843.0 C568.8,845.7 571.0,847.5 573.0,850.0 C575.0,852.5 575.5,856.0 578.0,858.0 C580.5,860.0 583.2,861.8 588.0,862.0 C592.8,862.2 600.8,860.2 607.0,859.0 C613.2,857.8 619.2,856.3 625.0,855.0 C630.8,853.7 637.5,852.7 642.0,851.0 C646.5,849.3 652.3,845.2 652.0,845.0 C651.7,844.8 643.7,848.8 640.0,849.5 C636.3,850.2 634.7,849.3 630.0,849.5 C625.3,849.7 618.3,850.8 612.0,850.5 C605.7,850.2 599.0,849.4 592.0,847.5 C585.0,845.6 577.0,843.1 570.0,839.0 C563.0,834.9 554.0,826.3 550.0,823.0 C546.0,819.7 545.0,817.2 546.0,819.0Z" fill="url(#gAT1)" stroke="#2b2b2b" stroke-width="1" stroke-linejoin="round"/>
<ellipse cx="590" cy="850" rx="8" ry="5.5" fill="url(#gBasN)" transform="rotate(10 590 850)"/>
<g transform="translate(629,822) rotate(-4)">
<rect x="-18.0" y="-29.0" width="36" height="58" rx="10.799999999999999" fill="url(#gAT2)" stroke="#2b2b2b" stroke-width="1"/>
<ellipse cx="0" cy="11.600000000000001" rx="10.799999999999999" ry="8.7" fill="url(#gGrN)"/>
<circle cx="-11.3" cy="-21.7" r="1.8" fill="#5dbf7e"/>
<circle cx="-3.5" cy="-21.8" r="1.8" fill="#5dbf7e"/>
<circle cx="3.0" cy="-22.3" r="1.8" fill="#5dbf7e"/>
<circle cx="10.7" cy="-22.8" r="1.8" fill="#5dbf7e"/>
<circle cx="-7.8" cy="-17.7" r="1.8" fill="#5dbf7e"/>
<circle cx="-0.0" cy="-16.8" r="1.8" fill="#5dbf7e"/>
<circle cx="7.9" cy="-17.3" r="1.8" fill="#5dbf7e"/>
<circle cx="-10.5" cy="-12.6" r="1.8" fill="#5dbf7e"/>
<circle cx="-3.3" cy="-12.1" r="1.8" fill="#5dbf7e"/>
<circle cx="3.1" cy="-11.6" r="1.8" fill="#5dbf7e"/>
<circle cx="10.3" cy="-11.8" r="1.8" fill="#5dbf7e"/>
<circle cx="-7.4" cy="-6.7" r="1.8" fill="#5dbf7e"/>
<circle cx="-0.2" cy="-7.8" r="1.8" fill="#5dbf7e"/>
<circle cx="7.7" cy="-7.6" r="1.8" fill="#5dbf7e"/>
</g>
<path d="M573.2,762.4 C573.4,762.8 573.7,763.3 573.8,763.7 C574.0,764.2 574.1,764.6 574.1,765.1 C574.2,765.5 574.2,766.0 574.2,766.4 C574.1,766.9 574.0,767.3 573.9,767.7 C573.7,768.2 573.5,768.6 573.3,769.0 C573.1,769.4 572.8,769.8 572.4,770.1 C572.1,770.5 571.7,770.8 571.3,771.1 C570.9,771.4 570.4,771.6 569.9,771.8 C569.4,772.0 568.4,772.0 568.1,772.3 C567.8,772.6 568.0,773.1 568.1,773.6 C568.2,774.1 568.5,774.8 568.6,775.3 C568.7,775.9 568.7,776.4 568.7,776.9 C568.6,777.4 568.6,777.9 568.4,778.4 C568.3,778.8 568.1,779.3 567.9,779.7 C567.7,780.1 567.4,780.5 567.1,780.8 C566.8,781.2 566.5,781.5 566.1,781.7 C565.7,782.0 565.3,782.2 564.9,782.4 C564.4,782.6 564.0,782.7 563.5,782.8 C563.0,782.9 562.5,782.9 562.0,782.9 C561.5,782.8 560.9,782.8 560.4,782.6 C559.8,782.4 559.0,781.8 558.6,781.9 C558.2,781.9 558.1,782.5 557.8,782.9 C557.6,783.4 557.5,784.1 557.2,784.6 C557.0,785.1 556.7,785.6 556.4,786.0 C556.0,786.4 555.7,786.7 555.3,787.0 C554.9,787.3 554.5,787.6 554.1,787.8 C553.7,788.0 553.2,788.1 552.8,788.2 C552.3,788.3 551.9,788.4 551.4,788.4 C551.0,788.4 550.5,788.3 550.1,788.2 C549.6,788.1 549.1,787.9 548.7,787.7 C548.3,787.5 547.8,787.2 547.4,786.8 C547.0,786.5 546.6,786.1 546.3,785.7 C545.9,785.2 545.7,784.2 545.3,784.0 C544.9,783.8 544.5,784.2 544.0,784.5 C543.5,784.7 543.0,785.3 542.5,785.6 C542.0,785.8 541.5,786.0 541.0,786.2 C540.5,786.4 540.0,786.4 539.5,786.5 C539.0,786.5 538.5,786.5 538.0,786.4 C537.5,786.3 537.1,786.2 536.7,786.0 C536.2,785.8 535.8,785.6 535.5,785.3 C535.1,785.0 534.8,784.7 534.5,784.3 C534.2,784.0 533.9,783.5 533.7,783.1 C533.5,782.6 533.3,782.1 533.2,781.6 C533.0,781.1 532.9,780.5 532.9,779.9 C532.9,779.3 533.3,778.3 533.2,777.9 C533.0,777.5 532.5,777.5 532.0,777.4 C531.6,777.3 530.8,777.4 530.3,777.3 C529.7,777.2 529.2,777.1 528.7,776.9 C528.3,776.7 527.8,776.5 527.4,776.2 C527.0,776.0 526.6,775.6 526.3,775.3 C526.0,775.0 525.7,774.6 525.5,774.2 C525.3,773.8 525.1,773.4 525.0,773.0 C524.8,772.5 524.7,772.1 524.7,771.6 C524.7,771.1 524.7,770.7 524.8,770.2 C524.8,769.7 525.0,769.2 525.1,768.7 C525.3,768.2 525.5,767.7 525.9,767.3 C526.2,766.8 527.1,766.2 527.1,765.8 C527.2,765.4 526.7,765.1 526.3,764.8 C525.9,764.4 525.2,764.0 524.8,763.7 C524.4,763.3 524.0,762.8 523.7,762.4 C523.4,762.0 523.2,761.5 523.0,761.1 C522.8,760.6 522.7,760.1 522.6,759.7 C522.5,759.2 522.5,758.7 522.6,758.3 C522.6,757.8 522.7,757.3 522.9,756.9 C523.0,756.5 523.2,756.0 523.5,755.6 C523.7,755.2 524.1,754.9 524.4,754.5 C524.8,754.2 525.2,753.8 525.7,753.6 C526.1,753.3 526.6,753.0 527.2,752.8 C527.8,752.6 528.8,752.7 529.2,752.4 C529.6,752.2 529.6,751.8 529.7,751.4 C529.8,751.0 529.6,750.4 529.6,750.0 C529.6,749.5 529.6,749.0 529.7,748.6 C529.8,748.2 529.9,747.7 530.1,747.3 C530.2,746.9 530.4,746.5 530.7,746.2 C530.9,745.8 531.2,745.5 531.4,745.1 C531.7,744.8 532.0,744.5 532.4,744.3 C532.7,744.0 533.1,743.8 533.5,743.6 C533.9,743.4 534.3,743.3 534.7,743.1 C535.1,743.0 535.6,742.9 536.0,742.9 C536.5,742.8 536.9,742.8 537.4,742.9 C537.9,742.9 538.5,743.3 538.9,743.2 C539.3,743.1 539.4,742.5 539.7,742.1 C539.9,741.6 540.1,741.0 540.3,740.6 C540.6,740.1 540.9,739.7 541.2,739.4 C541.5,739.0 541.9,738.7 542.3,738.4 C542.6,738.1 543.0,737.9 543.5,737.7 C543.9,737.5 544.3,737.4 544.7,737.3 C545.2,737.2 545.6,737.2 546.0,737.2 C546.5,737.2 546.9,737.2 547.4,737.3 C547.8,737.4 548.3,737.6 548.7,737.7 C549.1,737.9 549.6,738.2 550.0,738.5 C550.4,738.8 550.8,739.1 551.1,739.5 C551.5,739.9 551.7,740.8 552.1,740.9 C552.5,741.1 552.9,740.6 553.4,740.3 C553.9,740.1 554.4,739.5 554.9,739.2 C555.4,738.9 555.9,738.8 556.4,738.6 C556.9,738.4 557.4,738.4 557.9,738.3 C558.4,738.3 558.9,738.3 559.4,738.4 C559.9,738.5 560.3,738.6 560.7,738.8 C561.2,739.0 561.6,739.2 561.9,739.5 C562.3,739.8 562.6,740.1 562.9,740.5 C563.2,740.8 563.5,741.3 563.7,741.7 C563.9,742.2 564.1,742.7 564.3,743.2 C564.4,743.7 564.5,744.3 564.5,744.9 C564.5,745.5 564.1,746.5 564.2,746.9 C564.3,747.3 564.8,747.3 565.3,747.4 C565.8,747.5 566.5,747.5 567.0,747.5 C567.6,747.6 568.1,747.8 568.5,748.0 C569.0,748.2 569.4,748.4 569.8,748.7 C570.2,748.9 570.6,749.3 570.9,749.6 C571.2,749.9 571.5,750.3 571.7,750.7 C571.9,751.1 572.1,751.5 572.3,751.9 C572.4,752.3 572.5,752.8 572.5,753.3 C572.6,753.7 572.5,754.2 572.5,754.7 C572.4,755.2 572.3,755.6 572.1,756.1 C572.0,756.6 571.7,757.1 571.4,757.6 C571.1,758.0 570.3,758.6 570.2,759.0 C570.2,759.4 570.6,759.7 570.9,760.1 C571.3,760.4 571.9,760.8 572.2,761.2 C572.6,761.6 572.9,762.0 573.2,762.4Z" fill="url(#gMac)" stroke="#2b2b2b" stroke-width="1"/>
<g transform="translate(548.7,762.4) scale(1.2)"><path d="M-9,3 C-10,-5 -3,-3 1,-8 C6,-13 11,-5 8,3 C5,10 -7,11 -9,3Z" fill="url(#gMacN)"/></g>
<path d="M688.1,767.5 C688.1,767.9 687.9,768.4 687.8,768.8 C687.6,769.3 687.4,769.7 687.1,770.1 C686.9,770.5 686.6,770.9 686.2,771.3 C685.8,771.6 685.4,772.0 684.9,772.3 C684.4,772.6 683.5,772.7 683.2,773.0 C683.0,773.4 683.3,773.8 683.5,774.3 C683.6,774.8 684.1,775.4 684.3,775.9 C684.5,776.4 684.6,776.9 684.7,777.4 C684.8,777.9 684.8,778.4 684.8,778.9 C684.8,779.3 684.7,779.8 684.6,780.3 C684.5,780.7 684.3,781.1 684.1,781.5 C683.8,781.9 683.6,782.3 683.3,782.6 C683.0,782.9 682.6,783.2 682.2,783.5 C681.8,783.7 681.4,783.9 681.0,784.1 C680.5,784.3 680.0,784.4 679.5,784.5 C679.0,784.6 678.5,784.6 677.9,784.6 C677.3,784.5 676.4,784.1 676.0,784.2 C675.6,784.3 675.5,784.7 675.3,785.1 C675.2,785.6 675.2,786.3 675.0,786.7 C674.8,787.2 674.6,787.7 674.4,788.1 C674.2,788.5 673.9,788.9 673.6,789.2 C673.3,789.6 672.9,789.9 672.6,790.1 C672.2,790.4 671.8,790.6 671.4,790.8 C671.0,791.0 670.6,791.1 670.2,791.2 C669.8,791.3 669.3,791.3 668.9,791.3 C668.4,791.3 668.0,791.3 667.5,791.2 C667.1,791.1 666.6,790.9 666.2,790.7 C665.7,790.5 665.3,790.3 664.9,790.0 C664.4,789.7 664.0,788.9 663.6,788.8 C663.2,788.6 662.9,788.9 662.5,789.2 C662.1,789.4 661.7,789.9 661.3,790.1 C660.9,790.4 660.5,790.6 660.1,790.8 C659.6,790.9 659.2,791.1 658.8,791.2 C658.3,791.2 657.9,791.3 657.4,791.3 C657.0,791.3 656.6,791.2 656.2,791.1 C655.8,791.0 655.3,790.9 655.0,790.7 C654.6,790.6 654.2,790.3 653.8,790.1 C653.5,789.8 653.1,789.6 652.8,789.2 C652.5,788.9 652.2,788.6 652.0,788.2 C651.7,787.8 651.5,787.4 651.3,786.9 C651.1,786.4 651.2,785.6 650.9,785.3 C650.7,785.0 650.3,785.0 649.9,784.9 C649.4,784.8 648.9,784.9 648.4,784.9 C648.0,784.8 647.5,784.7 647.1,784.6 C646.7,784.4 646.3,784.3 645.9,784.1 C645.6,783.9 645.2,783.6 644.9,783.4 C644.5,783.1 644.2,782.8 644.0,782.5 C643.7,782.2 643.4,781.9 643.2,781.5 C643.0,781.2 642.8,780.8 642.7,780.4 C642.5,780.0 642.4,779.6 642.3,779.2 C642.2,778.7 642.2,778.3 642.2,777.8 C642.2,777.4 642.2,776.9 642.3,776.5 C642.4,776.0 642.9,775.4 642.8,775.1 C642.7,774.7 642.1,774.5 641.6,774.3 C641.2,774.0 640.6,773.8 640.1,773.5 C639.7,773.2 639.3,772.9 639.0,772.5 C638.6,772.2 638.3,771.8 638.1,771.4 C637.8,771.0 637.6,770.6 637.5,770.1 C637.3,769.7 637.2,769.3 637.2,768.8 C637.1,768.4 637.1,767.9 637.2,767.5 C637.2,767.1 637.3,766.6 637.5,766.2 C637.6,765.8 637.8,765.3 638.1,764.9 C638.3,764.5 638.6,764.1 639.0,763.8 C639.3,763.4 639.7,763.1 640.2,762.8 C640.7,762.5 641.6,762.3 641.8,762.0 C642.1,761.6 641.9,761.2 641.8,760.8 C641.6,760.3 641.3,759.8 641.1,759.3 C640.9,758.8 640.8,758.3 640.8,757.8 C640.8,757.4 640.8,756.9 640.8,756.4 C640.8,756.0 640.9,755.5 641.1,755.1 C641.2,754.7 641.4,754.3 641.6,753.9 C641.8,753.6 642.1,753.2 642.4,752.9 C642.7,752.6 643.0,752.3 643.4,752.0 C643.7,751.7 644.1,751.5 644.5,751.3 C645.0,751.1 645.4,751.0 645.9,750.9 C646.4,750.8 646.8,750.7 647.4,750.7 C647.9,750.7 648.7,751.1 649.1,750.9 C649.5,750.8 649.5,750.2 649.6,749.7 C649.7,749.2 649.7,748.5 649.8,748.0 C650.0,747.4 650.2,747.0 650.4,746.5 C650.6,746.1 650.9,745.7 651.2,745.3 C651.5,744.9 651.8,744.6 652.2,744.3 C652.5,744.0 652.9,743.8 653.3,743.6 C653.7,743.4 654.2,743.3 654.6,743.2 C655.0,743.1 655.5,743.1 656.0,743.1 C656.4,743.1 656.9,743.2 657.4,743.3 C657.8,743.4 658.3,743.6 658.8,743.8 C659.2,744.1 659.7,744.3 660.1,744.7 C660.5,745.1 661.0,745.9 661.4,746.1 C661.8,746.3 662.1,746.0 662.5,745.8 C662.9,745.5 663.3,745.0 663.7,744.7 C664.1,744.4 664.5,744.2 665.0,744.0 C665.4,743.9 665.8,743.7 666.3,743.6 C666.7,743.5 667.2,743.5 667.6,743.5 C668.0,743.5 668.5,743.5 668.9,743.6 C669.3,743.7 669.7,743.9 670.1,744.0 C670.5,744.2 670.9,744.4 671.3,744.7 C671.6,744.9 672.0,745.2 672.3,745.6 C672.6,745.9 672.9,746.3 673.1,746.7 C673.4,747.1 673.6,747.5 673.7,748.0 C673.9,748.5 673.8,749.4 674.1,749.7 C674.4,749.9 674.9,749.7 675.4,749.7 C675.9,749.7 676.6,749.4 677.2,749.4 C677.7,749.4 678.2,749.4 678.7,749.5 C679.2,749.6 679.7,749.7 680.1,749.9 C680.6,750.0 681.0,750.3 681.4,750.5 C681.7,750.8 682.1,751.1 682.4,751.4 C682.7,751.7 683.0,752.1 683.2,752.5 C683.4,752.9 683.6,753.3 683.7,753.7 C683.8,754.2 683.9,754.7 683.9,755.1 C684.0,755.6 683.9,756.1 683.8,756.6 C683.8,757.1 683.7,757.6 683.4,758.2 C683.2,758.7 682.5,759.4 682.5,759.8 C682.5,760.2 683.0,760.4 683.4,760.7 C683.9,761.0 684.6,761.2 685.0,761.5 C685.5,761.8 685.9,762.1 686.3,762.5 C686.6,762.8 686.9,763.2 687.2,763.6 C687.4,764.0 687.6,764.4 687.8,764.8 C688.0,765.3 688.1,765.7 688.1,766.2 C688.2,766.6 688.2,767.1 688.1,767.5Z" fill="url(#gMac)" stroke="#2b2b2b" stroke-width="1"/>
<g transform="translate(662.5,767.5) scale(1.2)"><path d="M-9,3 C-10,-5 -3,-3 1,-8 C6,-13 11,-5 8,3 C5,10 -7,11 -9,3Z" fill="url(#gMacN)"/></g>
<rect x="382.2" y="0.9" width="415.4" height="506.7" stroke="#4a4a4a" stroke-width="1.25" stroke-dasharray="5.5,4.5" fill="none"/>
<rect x="382.2" y="596.5" width="415.4" height="301.3" stroke="#4a4a4a" stroke-width="1.25" stroke-dasharray="5.5,4.5" fill="none"/>
<text x="428.5" y="23.3" font-size="20" font-weight="bold" textLength="166" lengthAdjust="spacingAndGlyphs" fill="#0a0a0a">Airway epithelium</text>
<text x="691" y="23.3" font-size="20" font-weight="bold" textLength="64" lengthAdjust="spacingAndGlyphs" fill="#0a0a0a">Stroma</text>
<text x="399" y="67" font-size="20" textLength="101" lengthAdjust="spacingAndGlyphs" fill="#0a0a0a">Ciliated cell</text>
<text x="399" y="113" font-size="20" fill="#0a0a0a">Mucus-</text>
<text x="399" y="134.2" font-size="20" fill="#0a0a0a">producing</text>
<text x="399" y="155.2" font-size="20" textLength="90" lengthAdjust="spacingAndGlyphs" fill="#0a0a0a">goblet cell</text>
<text x="399" y="200.5" font-size="20" textLength="82.5" lengthAdjust="spacingAndGlyphs" fill="#0a0a0a">Secretory</text>
<text x="399" y="222" font-size="20" fill="#0a0a0a">club cell</text>
<text x="399" y="275.5" font-size="20" textLength="79" lengthAdjust="spacingAndGlyphs" fill="#0a0a0a">Basal cell</text>
<text x="399" y="326.6" font-size="20" textLength="137.5" lengthAdjust="spacingAndGlyphs" fill="#0a0a0a">Neuroendocrine</text>
<text x="399" y="347.4" font-size="20" fill="#0a0a0a">cell</text>
<text x="693" y="53" font-size="20" textLength="83" lengthAdjust="spacingAndGlyphs" fill="#0a0a0a">Basement</text>
<text x="693" y="74" font-size="20" textLength="91" lengthAdjust="spacingAndGlyphs" fill="#0a0a0a">membrane</text>
<text x="685" y="141" font-size="20" textLength="66" lengthAdjust="spacingAndGlyphs" fill="#0a0a0a">Smooth</text>
<text x="685" y="162" font-size="20" textLength="91" lengthAdjust="spacingAndGlyphs" fill="#0a0a0a">muscle cell</text>
<text x="690" y="335" font-size="20" fill="#0a0a0a">Endothelial</text>
<text x="690" y="355.5" font-size="20" fill="#0a0a0a">capillary</text>
<text x="734" y="490" font-size="20" textLength="40.5" lengthAdjust="spacingAndGlyphs" fill="#0a0a0a">ECM</text>
<text x="295" y="216.5" font-size="20" textLength="73" lengthAdjust="spacingAndGlyphs" fill="#0a0a0a">Proximal</text>
<text x="321" y="700" font-size="20" textLength="48" lengthAdjust="spacingAndGlyphs" fill="#0a0a0a">Distal</text>
<text x="184" y="769" font-size="20" fill="#0a0a0a">Alveoli</text>
<text x="452" y="637.5" font-size="20" fill="#0a0a0a">Alveolar</text>
<text x="452" y="658" font-size="20" textLength="80.5" lengthAdjust="spacingAndGlyphs" fill="#0a0a0a">type I cell</text>
<text x="557" y="707.5" font-size="20" fill="#0a0a0a">Alveolar</text>
<text x="557" y="728" font-size="20" textLength="105" lengthAdjust="spacingAndGlyphs" fill="#0a0a0a">macrophage</text>
<text x="696" y="623" font-size="20" fill="#0a0a0a">Alveolar</text>
<text x="696" y="644" font-size="20" textLength="84.5" lengthAdjust="spacingAndGlyphs" fill="#0a0a0a">type II cell</text>
<text x="442.5" y="864" font-size="20" fill="#0a0a0a">Blood</text>
<text x="442.5" y="885" font-size="20" textLength="50" lengthAdjust="spacingAndGlyphs" fill="#0a0a0a">vessel</text>
<text x="702" y="884" font-size="20" textLength="84" lengthAdjust="spacingAndGlyphs" fill="#0a0a0a">Fibroblast</text>
<line x1="506.7" y1="60.5" x2="556" y2="60.5" stroke="#2a2a2a" stroke-width="1"/>
<line x1="496" y1="150.5" x2="551" y2="150.5" stroke="#2a2a2a" stroke-width="1"/>
<line x1="488" y1="196.5" x2="560" y2="196.5" stroke="#2a2a2a" stroke-width="1"/>
<line x1="484" y1="269.5" x2="615" y2="269.5" stroke="#2a2a2a" stroke-width="1"/>
<path d="M544.5,319.5 L588,319.5 L613.5,302" fill="none" stroke="#2a2a2a" stroke-width="1"/>
<line x1="642" y1="45.5" x2="688" y2="45.5" stroke="#2a2a2a" stroke-width="1"/>
<line x1="657" y1="133.5" x2="680" y2="133.5" stroke="#2a2a2a" stroke-width="1"/>
<line x1="665" y1="325.5" x2="686.7" y2="325.5" stroke="#2a2a2a" stroke-width="1"/>
<line x1="717.5" y1="481.5" x2="729.5" y2="481.5" stroke="#2a2a2a" stroke-width="1"/>
<line x1="162" y1="763.5" x2="180.5" y2="763.5" stroke="#2a2a2a" stroke-width="1"/>
<line x1="540" y1="652.5" x2="553.75" y2="652.5" stroke="#2a2a2a" stroke-width="1"/>
<line x1="549.5" y1="705" x2="549.5" y2="742.5" stroke="#2a2a2a" stroke-width="1"/>
<path d="M668,610 L676,618.5 L690,618.5" fill="none" stroke="#2a2a2a" stroke-width="1"/>
<line x1="411" y1="855.5" x2="434" y2="855.5" stroke="#2a2a2a" stroke-width="1"/>
<line x1="660" y1="878.5" x2="696" y2="878.5" stroke="#2a2a2a" stroke-width="1"/>
</svg></div>
</body></html>
